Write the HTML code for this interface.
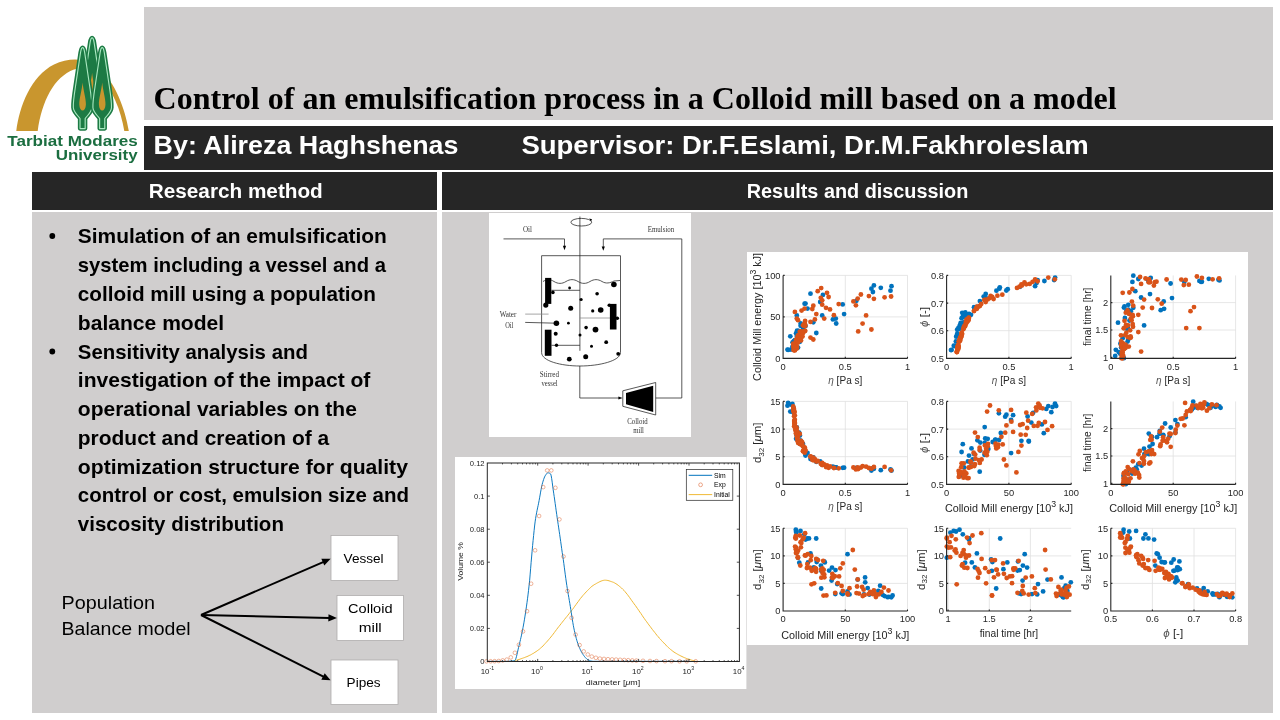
<!DOCTYPE html>
<html lang="en"><head><meta charset="utf-8"><title>Control of an emulsification process in a Colloid mill based on a model</title>
<style>html,body{margin:0;padding:0;background:#fff;width:1280px;height:720px;overflow:hidden}svg{display:block}text{white-space:pre}</style>
</head><body>
<svg width="1280" height="720" viewBox="0 0 1280 720">
<rect width="1280" height="720" fill="#fff"/>
<rect x="144" y="7" width="1129" height="113" fill="#d0cece" />
<rect x="144" y="126" width="1129" height="44" fill="#262626" />
<rect x="32" y="172" width="405" height="38" fill="#262626" />
<rect x="442" y="172" width="831" height="38" fill="#262626" />
<rect x="32" y="212" width="405" height="501" fill="#d0cece" />
<rect x="442" y="212" width="831" height="501" fill="#d0cece" />
<text x="153.6" y="108.9" font-family="'Liberation Serif', serif" font-size="32.5" font-weight="bold" fill="#000" text-anchor="start" textLength="963" lengthAdjust="spacingAndGlyphs" >Control of an emulsification process in a Colloid mill based on a model</text>
<text x="153.6" y="153.8" font-family="'Liberation Sans', sans-serif" font-size="26" font-weight="bold" fill="#fff" text-anchor="start" textLength="304.8" lengthAdjust="spacingAndGlyphs" >By: Alireza Haghshenas</text>
<text x="521.4" y="153.8" font-family="'Liberation Sans', sans-serif" font-size="26" font-weight="bold" fill="#fff" text-anchor="start" textLength="567.4" lengthAdjust="spacingAndGlyphs" >Supervisor: Dr.F.Eslami, Dr.M.Fakhroleslam</text>
<text x="235.8" y="197.5" font-family="'Liberation Sans', sans-serif" font-size="20" font-weight="bold" fill="#fff" text-anchor="middle" textLength="174" lengthAdjust="spacingAndGlyphs" >Research method</text>
<text x="857.5" y="197.5" font-family="'Liberation Sans', sans-serif" font-size="20" font-weight="bold" fill="#fff" text-anchor="middle" textLength="221.5" lengthAdjust="spacingAndGlyphs" >Results and discussion</text>
<text x="77.8" y="243.0" font-family="'Liberation Sans', sans-serif" font-size="20.2" font-weight="bold" fill="#000" text-anchor="start" textLength="309.09999999999997" lengthAdjust="spacingAndGlyphs" >Simulation of an emulsification</text>
<text x="77.8" y="271.8" font-family="'Liberation Sans', sans-serif" font-size="20.2" font-weight="bold" fill="#000" text-anchor="start" textLength="308.09999999999997" lengthAdjust="spacingAndGlyphs" >system including a vessel and a</text>
<text x="77.8" y="300.8" font-family="'Liberation Sans', sans-serif" font-size="20.2" font-weight="bold" fill="#000" text-anchor="start" textLength="298.09999999999997" lengthAdjust="spacingAndGlyphs" >colloid mill using a population</text>
<text x="77.8" y="329.5" font-family="'Liberation Sans', sans-serif" font-size="20.2" font-weight="bold" fill="#000" text-anchor="start" textLength="146.40000000000003" lengthAdjust="spacingAndGlyphs" >balance model</text>
<text x="77.8" y="358.5" font-family="'Liberation Sans', sans-serif" font-size="20.2" font-weight="bold" fill="#000" text-anchor="start" textLength="230.09999999999997" lengthAdjust="spacingAndGlyphs" >Sensitivity analysis and</text>
<text x="77.8" y="386.8" font-family="'Liberation Sans', sans-serif" font-size="20.2" font-weight="bold" fill="#000" text-anchor="start" textLength="292.59999999999997" lengthAdjust="spacingAndGlyphs" >investigation of the impact of</text>
<text x="77.8" y="415.8" font-family="'Liberation Sans', sans-serif" font-size="20.2" font-weight="bold" fill="#000" text-anchor="start" textLength="279.09999999999997" lengthAdjust="spacingAndGlyphs" >operational variables on the</text>
<text x="77.8" y="444.9" font-family="'Liberation Sans', sans-serif" font-size="20.2" font-weight="bold" fill="#000" text-anchor="start" textLength="251.39999999999998" lengthAdjust="spacingAndGlyphs" >product and creation of a</text>
<text x="77.8" y="473.6" font-family="'Liberation Sans', sans-serif" font-size="20.2" font-weight="bold" fill="#000" text-anchor="start" textLength="330.09999999999997" lengthAdjust="spacingAndGlyphs" >optimization structure for quality</text>
<text x="77.8" y="502.4" font-family="'Liberation Sans', sans-serif" font-size="20.2" font-weight="bold" fill="#000" text-anchor="start" textLength="331.09999999999997" lengthAdjust="spacingAndGlyphs" >control or cost, emulsion size and</text>
<text x="77.8" y="530.5" font-family="'Liberation Sans', sans-serif" font-size="20.2" font-weight="bold" fill="#000" text-anchor="start" textLength="206.09999999999997" lengthAdjust="spacingAndGlyphs" >viscosity distribution</text>
<circle cx="52.3" cy="236" r="2.9" fill="#000"/>
<circle cx="52.3" cy="351.5" r="2.9" fill="#000"/>
<text x="61.6" y="609.4" font-family="'Liberation Sans', sans-serif" font-size="18.5" font-weight="normal" fill="#000" text-anchor="start" textLength="93.4" lengthAdjust="spacingAndGlyphs" >Population</text>
<text x="61.6" y="635.0" font-family="'Liberation Sans', sans-serif" font-size="18.5" font-weight="normal" fill="#000" text-anchor="start" textLength="129" lengthAdjust="spacingAndGlyphs" >Balance model</text>
<rect x="331" y="535.5" width="67" height="45.0" fill="#fff" stroke="#aeacac" stroke-width="0.8"/>
<rect x="337" y="595.5" width="66.5" height="45.0" fill="#fff" stroke="#aeacac" stroke-width="0.8"/>
<rect x="331" y="660" width="67" height="44.5" fill="#fff" stroke="#aeacac" stroke-width="0.8"/>
<text x="363.6" y="562.5" font-family="'Liberation Sans', sans-serif" font-size="13.4" font-weight="normal" fill="#000" text-anchor="middle" textLength="40" lengthAdjust="spacingAndGlyphs" >Vessel</text>
<text x="370.3" y="613.4" font-family="'Liberation Sans', sans-serif" font-size="13.4" font-weight="normal" fill="#000" text-anchor="middle" textLength="44.5" lengthAdjust="spacingAndGlyphs" >Colloid</text>
<text x="370.3" y="632.2" font-family="'Liberation Sans', sans-serif" font-size="13.4" font-weight="normal" fill="#000" text-anchor="middle" textLength="23" lengthAdjust="spacingAndGlyphs" >mill</text>
<text x="363.6" y="686.9" font-family="'Liberation Sans', sans-serif" font-size="13.4" font-weight="normal" fill="#000" text-anchor="middle" textLength="34" lengthAdjust="spacingAndGlyphs" >Pipes</text>
<line x1="201.0" y1="615.0" x2="323.7" y2="561.8" stroke="#000" stroke-width="2.0"/>
<polygon points="330.6,558.8 324.3,565.6 321.3,558.8" fill="#000"/>
<line x1="201.0" y1="615.0" x2="329.4" y2="617.9" stroke="#000" stroke-width="2.0"/>
<polygon points="336.9,618.1 328.3,621.6 328.5,614.2" fill="#000"/>
<line x1="201.0" y1="615.0" x2="323.9" y2="676.9" stroke="#000" stroke-width="2.0"/>
<polygon points="330.6,680.3 321.3,679.8 324.7,673.2" fill="#000"/>
<g id="logo"><path d="M16.3,131 C19.5,106 31,76 54,64.5 C70,57 88,58 100,68.5 C115,83 125,108 128.8,131 L124.3,131 C121,110 112,89 100,77 C92,69.5 82,67 74,69.5 C54,77 42,101 37.7,131 Z" fill="#c9962e"/><g transform="translate(92.1,35.3) scale(1.03,1)"><path d="M0,2.6 C-1.2,2.6 -1.6,5 -2,7.5 L-6.7,40 C-8.2,50 -9.3,57 -9.0,62.5 C-8.8,67 -5.5,69.5 -2.5,73.5 L2.5,73.5 C5.5,69.5 8.8,67 9.0,62.5 C9.3,57 8.2,50 6.7,40 L2,7.5 C1.6,5 1.2,2.6 0,2.6 Z" fill="#1c7a44" stroke="#1c7a44" stroke-width="4.2" stroke-linejoin="round"/><path d="M0,2.6 C-1.2,2.6 -1.6,5 -2,7.5 L-6.7,40 C-8.2,50 -9.3,57 -9.0,62.5 C-8.8,67 -5.5,69.5 -2.5,73.5 L2.5,73.5 C5.5,69.5 8.8,67 9.0,62.5 C9.3,57 8.2,50 6.7,40 L2,7.5 C1.6,5 1.2,2.6 0,2.6 Z" fill="none" stroke="#a9e8c0" stroke-width="1.1" stroke-linejoin="round"/><path d="M0,37.5 C-0.6,45 -3.4,54 -3.2,59.5 C-3,63.5 -1.6,65.5 0,65.5 C1.6,65.5 3,63.5 3.2,59.5 C3.4,54 0.6,45 0,37.5 Z" fill="#c9962e"/></g><g transform="translate(82.6,45.0) scale(1.03,1)"><path d="M0,2.6 C-1.2,2.6 -1.6,5 -2,7.5 L-6.7,40 C-8.2,50 -9.3,57 -9.0,62.5 C-8.8,67 -5.5,69.5 -2.5,73.5 L-2.5,83.6 L2.5,83.6 L2.5,73.5 C5.5,69.5 8.8,67 9.0,62.5 C9.3,57 8.2,50 6.7,40 L2,7.5 C1.6,5 1.2,2.6 0,2.6 Z" fill="#1c7a44" stroke="#1c7a44" stroke-width="4.2" stroke-linejoin="round"/><path d="M0,2.6 C-1.2,2.6 -1.6,5 -2,7.5 L-6.7,40 C-8.2,50 -9.3,57 -9.0,62.5 C-8.8,67 -5.5,69.5 -2.5,73.5 L-2.5,83.6 L2.5,83.6 L2.5,73.5 C5.5,69.5 8.8,67 9.0,62.5 C9.3,57 8.2,50 6.7,40 L2,7.5 C1.6,5 1.2,2.6 0,2.6 Z" fill="none" stroke="#a9e8c0" stroke-width="1.1" stroke-linejoin="round"/><path d="M0,37.5 C-0.6,45 -3.4,54 -3.2,59.5 C-3,63.5 -1.6,65.5 0,65.5 C1.6,65.5 3,63.5 3.2,59.5 C3.4,54 0.6,45 0,37.5 Z" fill="#c9962e"/></g><g transform="translate(102.2,45.0) scale(1.03,1)"><path d="M0,2.6 C-1.2,2.6 -1.6,5 -2,7.5 L-6.7,40 C-8.2,50 -9.3,57 -9.0,62.5 C-8.8,67 -5.5,69.5 -2.5,73.5 L-2.5,83.6 L2.5,83.6 L2.5,73.5 C5.5,69.5 8.8,67 9.0,62.5 C9.3,57 8.2,50 6.7,40 L2,7.5 C1.6,5 1.2,2.6 0,2.6 Z" fill="#1c7a44" stroke="#1c7a44" stroke-width="4.2" stroke-linejoin="round"/><path d="M0,2.6 C-1.2,2.6 -1.6,5 -2,7.5 L-6.7,40 C-8.2,50 -9.3,57 -9.0,62.5 C-8.8,67 -5.5,69.5 -2.5,73.5 L-2.5,83.6 L2.5,83.6 L2.5,73.5 C5.5,69.5 8.8,67 9.0,62.5 C9.3,57 8.2,50 6.7,40 L2,7.5 C1.6,5 1.2,2.6 0,2.6 Z" fill="none" stroke="#a9e8c0" stroke-width="1.1" stroke-linejoin="round"/><path d="M0,37.5 C-0.6,45 -3.4,54 -3.2,59.5 C-3,63.5 -1.6,65.5 0,65.5 C1.6,65.5 3,63.5 3.2,59.5 C3.4,54 0.6,45 0,37.5 Z" fill="#c9962e"/></g><text x="137.8" y="146.1" font-family="'Liberation Sans', sans-serif" font-size="15" font-weight="bold" fill="#1b6e40" text-anchor="end" textLength="130.5" lengthAdjust="spacingAndGlyphs">Tarbiat Modares</text><text x="137.6" y="159.6" font-family="'Liberation Sans', sans-serif" font-size="15" font-weight="bold" fill="#1b6e40" text-anchor="end" textLength="81.8" lengthAdjust="spacingAndGlyphs">University</text></g>
<g id="vessel" transform="translate(489,213)"><rect x="0" y="0" width="202" height="224" fill="#fff"/><g fill="none" stroke="#222" stroke-width="0.75"><line x1="90.9" y1="3.5" x2="90.9" y2="137.8"/><ellipse cx="92.3" cy="9.2" rx="10.4" ry="3.8"/><polyline points="14.5,25.9 75.5,25.9 75.5,34.5"/><polyline points="114.3,34.5 114.3,25.9 192.8,25.9 192.8,185 166.7,185"/><path d="M52.6,139.5 L52.6,42.7 L131.5,42.7 L131.5,139.5 C131.5,148 110,153 91,153 C72,153 52.6,148 52.6,139.5 Z"/><path d="M54,68.5 C58,66 61,66 65,68.5 C69,71 73,71 77,68.5 C81,66 85,66 89,68.5 C93,71 97,71 101,68.5 C105,66 109,66 113,68.5 C117,71 121,70 125,68 L131,67.5"/><line x1="62.3" y1="77.3" x2="90.9" y2="77.3"/><line x1="90.9" y1="105" x2="121" y2="105" stroke="#888"/><line x1="62.5" y1="132.3" x2="90.9" y2="132.3"/><line x1="36.2" y1="101.1" x2="59.6" y2="101.1" stroke="#888"/><line x1="36.2" y1="109.4" x2="67" y2="110.2"/><polyline points="90.8,153 90.8,185 131,185"/><polygon points="133.8,177.8 166.7,169.5 166.7,202 133.8,193.3"/></g><g fill="#000"><polygon points="75.5,37.2 73.9,32.8 77.1,32.8"/><polygon points="114.3,37.8 112.7,33.4 115.9,33.4"/><polygon points="133.6,185 129.4,183.4 129.4,186.6"/><polygon points="103,6.3 100.2,5.6 102,8.2"/><rect x="56.1" y="64.9" width="6.2" height="26"/><rect x="120.9" y="90.9" width="6.6" height="25.6"/><rect x="55.8" y="116.7" width="6.7" height="26.1"/><polygon points="137,180 164.2,172.8 164.2,199 137,191.2"/><circle cx="124.9" cy="71.5" r="2.8"/><circle cx="80.6" cy="75" r="1.4"/><circle cx="108.1" cy="80.8" r="1.8"/><circle cx="63.9" cy="79.4" r="1.8"/><circle cx="92.1" cy="86.5" r="1.6"/><circle cx="56.8" cy="92.1" r="2.6"/><circle cx="81.7" cy="95.3" r="2.5"/><circle cx="103.7" cy="97.9" r="1.6"/><circle cx="111.7" cy="97" r="2.8"/><circle cx="120.3" cy="92.3" r="1.8"/><circle cx="128.3" cy="105.3" r="1.8"/><circle cx="67.4" cy="110.2" r="2.8"/><circle cx="79.4" cy="110.2" r="1.4"/><circle cx="97.1" cy="114.6" r="1.8"/><circle cx="106.5" cy="116.6" r="2.9"/><circle cx="66.7" cy="120.8" r="2.0"/><circle cx="91" cy="121.9" r="1.5"/><circle cx="117.2" cy="129.2" r="1.9"/><circle cx="67.5" cy="132.3" r="1.7"/><circle cx="102.5" cy="133.3" r="1.5"/><circle cx="129.2" cy="140.8" r="1.9"/><circle cx="96.7" cy="143.7" r="2.5"/><circle cx="80.3" cy="146.2" r="2.4"/></g><text x="38.4" y="18.6" font-family="'Liberation Serif', serif" font-size="7.2" fill="#333" text-anchor="middle" textLength="9" lengthAdjust="spacingAndGlyphs">Oil</text><text x="172" y="18.8" font-family="'Liberation Serif', serif" font-size="7.2" fill="#333" text-anchor="middle" textLength="26.5" lengthAdjust="spacingAndGlyphs">Emulsion</text><text x="19" y="103.8" font-family="'Liberation Serif', serif" font-size="7.2" fill="#333" text-anchor="middle" textLength="16.7" lengthAdjust="spacingAndGlyphs">Water</text><text x="20.3" y="115.3" font-family="'Liberation Serif', serif" font-size="7.2" fill="#333" text-anchor="middle" textLength="8.2" lengthAdjust="spacingAndGlyphs">Oil</text><text x="60.4" y="163.8" font-family="'Liberation Serif', serif" font-size="7.2" fill="#333" text-anchor="middle" textLength="19.2" lengthAdjust="spacingAndGlyphs">Stirred</text><text x="60.6" y="173.4" font-family="'Liberation Serif', serif" font-size="7.2" fill="#333" text-anchor="middle" textLength="16.2" lengthAdjust="spacingAndGlyphs">vessel</text><text x="148.5" y="210.6" font-family="'Liberation Serif', serif" font-size="7.2" fill="#333" text-anchor="middle" textLength="20.5" lengthAdjust="spacingAndGlyphs">Colloid</text><text x="149.6" y="220.2" font-family="'Liberation Serif', serif" font-size="7.2" fill="#333" text-anchor="middle" textLength="10.8" lengthAdjust="spacingAndGlyphs">mill</text></g>
<g id="dist"><rect x="455" y="457" width="291.3" height="232" fill="#fff"/><rect x="746.3" y="457" width="0.7" height="232" fill="#e4e3e3"/><polyline points="514.4,660.6 515.5,660.4 516.7,660.1 517.8,659.8 519.0,659.5 520.1,659.1 521.2,658.7 522.4,658.3 523.5,657.9 524.7,657.5 525.8,657.0 526.9,656.6 528.1,656.1 529.2,655.5 530.4,655.0 531.5,654.4 532.6,653.7 533.8,653.1 534.9,652.3 536.1,651.6 537.2,650.8 538.3,650.0 539.5,649.1 540.6,648.1 541.8,647.1 542.9,646.0 544.0,644.8 545.2,643.5 546.3,642.3 547.5,641.0 548.6,639.7 549.7,638.4 550.9,637.0 552.0,635.6 553.2,634.1 554.3,632.6 555.4,631.1 556.6,629.5 557.7,628.0 558.9,626.5 560.0,625.1 561.2,623.6 562.3,622.2 563.4,620.8 564.6,619.3 565.7,617.9 566.9,616.5 568.0,615.1 569.1,613.7 570.3,612.2 571.4,610.8 572.6,609.3 573.7,607.8 574.8,606.2 576.0,604.6 577.1,603.0 578.3,601.5 579.4,599.9 580.5,598.4 581.7,597.0 582.8,595.6 584.0,594.3 585.1,593.1 586.2,591.9 587.4,590.7 588.5,589.5 589.7,588.4 590.8,587.3 591.9,586.3 593.1,585.5 594.2,584.7 595.4,584.1 596.5,583.4 597.6,582.8 598.8,582.2 599.9,581.6 601.1,581.1 602.2,580.7 603.3,580.4 604.5,580.2 605.6,580.2 606.8,580.3 607.9,580.5 609.0,580.8 610.2,581.2 611.3,581.6 612.5,582.0 613.6,582.4 614.7,583.0 615.9,583.7 617.0,584.4 618.2,585.3 619.3,586.2 620.4,587.1 621.6,588.1 622.7,589.2 623.9,590.3 625.0,591.6 626.1,593.0 627.3,594.4 628.4,595.9 629.6,597.5 630.7,599.1 631.8,600.7 633.0,602.3 634.1,603.9 635.3,605.4 636.4,607.0 637.5,608.6 638.7,610.3 639.8,612.0 641.0,613.6 642.1,615.3 643.2,617.0 644.4,618.6 645.5,620.3 646.7,621.8 647.8,623.4 648.9,624.9 650.1,626.4 651.2,627.9 652.4,629.5 653.5,630.9 654.7,632.4 655.8,633.8 656.9,635.3 658.1,636.6 659.2,638.0 660.4,639.2 661.5,640.5 662.6,641.7 663.8,642.9 664.9,644.1 666.1,645.2 667.2,646.4 668.3,647.5 669.5,648.5 670.6,649.5 671.8,650.4 672.9,651.3 674.0,652.1 675.2,652.8 676.3,653.5 677.5,654.2 678.6,654.8 679.7,655.4 680.9,656.0 682.0,656.5 683.2,657.1 684.3,657.6 685.4,658.0 686.6,658.5 687.7,658.9 688.9,659.3 690.0,659.6 691.1,660.0 692.3,660.3 693.4,660.7 694.6,660.9 695.7,661.2" fill="none" stroke="#edb120" stroke-width="0.9" stroke-linejoin="round"/><polyline points="487.3,661.3 487.8,661.3 488.3,661.3 488.8,661.3 489.3,661.3 489.8,661.3 490.3,661.3 490.8,661.3 491.3,661.3 491.8,661.3 492.3,661.3 492.8,661.3 493.3,661.3 493.8,661.3 494.3,661.3 494.8,661.3 495.3,661.3 495.9,661.3 496.4,661.3 496.9,661.3 497.4,661.3 497.9,661.3 498.4,661.3 498.9,661.3 499.4,661.3 499.9,661.3 500.4,661.3 500.9,661.3 501.4,661.3 501.9,661.3 502.4,661.3 502.9,661.3 503.4,661.3 503.9,661.3 504.4,661.3 504.9,661.3 505.4,661.3 505.9,661.3 506.4,661.3 506.9,661.3 507.4,661.3 507.9,661.2 508.4,661.2 508.9,661.2 509.4,661.2 509.9,661.1 510.4,661.1 510.9,661.1 511.4,661.0 511.9,661.0 512.5,660.9 513.0,660.8 513.5,660.8 514.0,660.7 514.5,660.6 515.0,660.4 515.5,659.5 516.0,658.2 516.5,656.4 517.0,654.4 517.5,652.2 518.0,649.9 518.5,647.7 519.0,645.6 519.5,643.7 520.0,641.6 520.5,639.5 521.0,637.3 521.5,635.1 522.0,632.7 522.5,630.3 523.0,627.7 523.5,625.0 524.0,622.2 524.5,619.2 525.0,616.1 525.5,612.9 526.0,609.5 526.5,606.1 527.0,602.6 527.5,598.8 528.0,594.9 528.5,590.7 529.0,586.1 529.6,580.8 530.1,574.9 530.6,568.8 531.1,562.7 531.6,557.0 532.1,551.2 532.6,545.7 533.1,540.5 533.6,535.5 534.1,530.6 534.6,526.0 535.1,521.9 535.6,518.5 536.1,515.5 536.6,512.8 537.1,510.3 537.6,507.9 538.1,505.6 538.6,503.2 539.1,500.6 539.6,497.8 540.1,495.0 540.6,492.1 541.1,489.4 541.6,486.9 542.1,484.6 542.6,482.8 543.1,481.1 543.6,479.5 544.1,478.1 544.6,476.9 545.1,475.9 545.6,475.1 546.2,474.3 546.7,473.6 547.2,473.1 547.7,472.8 548.2,472.8 548.7,472.9 549.2,473.0 549.7,473.2 550.2,473.5 550.7,474.0 551.2,475.8 551.7,478.7 552.2,482.2 552.7,486.1 553.2,489.8 553.7,493.2 554.2,496.5 554.7,500.0 555.2,503.6 555.7,507.2 556.2,510.8 556.7,514.3 557.2,517.8 557.7,521.2 558.2,524.5 558.7,527.9 559.2,531.2 559.7,534.6 560.2,538.1 560.7,541.6 561.2,545.1 561.7,548.7 562.2,552.4 562.8,556.0 563.3,559.7 563.8,563.4 564.3,567.2 564.8,571.0 565.3,574.8 565.8,578.5 566.3,582.0 566.8,585.4 567.3,588.5 567.8,591.6 568.3,594.6 568.8,597.5 569.3,600.4 569.8,603.4 570.3,606.4 570.8,609.5 571.3,612.8 571.8,616.1 572.3,619.3 572.8,622.4 573.3,625.3 573.8,627.9 574.3,630.3 574.8,632.5 575.3,634.6 575.8,636.6 576.3,638.5 576.8,640.3 577.3,641.9 577.8,643.5 578.3,644.9 578.8,646.2 579.4,647.5 579.9,648.7 580.4,649.8 580.9,650.8 581.4,651.8 581.9,652.7 582.4,653.6 582.9,654.3 583.4,655.0 583.9,655.7 584.4,656.4 584.9,657.0 585.4,657.6 585.9,658.1 586.4,658.6 586.9,659.1 587.4,659.5 587.9,659.8 588.4,660.1 588.9,660.3 589.4,660.4 589.9,660.6 590.4,660.8 590.9,660.9 591.4,661.0 591.9,661.1 592.4,661.2 592.9,661.3 593.4,661.3 593.9,661.3 594.4,661.3 594.9,661.3 595.4,661.3 595.9,661.3 596.5,661.3 597.0,661.3 597.5,661.3 598.0,661.3 598.5,661.3 599.0,661.3 599.5,661.3 600.0,661.3 600.5,661.3 601.0,661.3 601.5,661.3 602.0,661.3 602.5,661.3 603.0,661.3 603.5,661.3 604.0,661.3 604.5,661.3 605.0,661.3 605.5,661.3 606.0,661.3 606.5,661.3 607.0,661.3 607.5,661.3 608.0,661.3 608.5,661.3 609.0,661.3 609.5,661.3 610.0,661.3 610.5,661.3 611.0,661.3 611.5,661.3 612.0,661.3 612.5,661.3 613.1,661.3 613.6,661.3 614.1,661.3 614.6,661.3 615.1,661.3 615.6,661.3 616.1,661.3 616.6,661.3 617.1,661.3 617.6,661.3 618.1,661.3 618.6,661.3 619.1,661.3 619.6,661.3 620.1,661.3 620.6,661.3 621.1,661.3 621.6,661.3 622.1,661.3 622.6,661.3 623.1,661.3 623.6,661.3 624.1,661.3 624.6,661.3 625.1,661.3 625.6,661.3 626.1,661.3 626.6,661.3 627.1,661.3 627.6,661.3 628.1,661.3 628.6,661.3 629.1,661.3 629.7,661.3 630.2,661.3 630.7,661.3 631.2,661.3 631.7,661.3 632.2,661.3 632.7,661.3 633.2,661.3 633.7,661.3 634.2,661.3 634.7,661.3 635.2,661.3 635.7,661.3 636.2,661.3 636.7,661.3 637.2,661.3 637.7,661.3 638.2,661.3 638.7,661.3 639.2,661.3 639.7,661.3 640.2,661.3 640.7,661.3 641.2,661.3 641.7,661.3 642.2,661.3 642.7,661.3 643.2,661.3 643.7,661.3 644.2,661.3 644.7,661.3 645.2,661.3 645.7,661.3 646.3,661.3 646.8,661.3 647.3,661.3 647.8,661.3 648.3,661.3 648.8,661.3 649.3,661.3 649.8,661.3 650.3,661.3 650.8,661.3 651.3,661.3 651.8,661.3 652.3,661.3 652.8,661.3 653.3,661.3 653.8,661.3 654.3,661.3 654.8,661.3 655.3,661.3 655.8,661.3 656.3,661.3 656.8,661.3 657.3,661.3 657.8,661.3 658.3,661.3 658.8,661.3 659.3,661.3 659.8,661.3 660.3,661.3 660.8,661.3 661.3,661.3 661.8,661.3 662.3,661.3 662.8,661.3 663.4,661.3 663.9,661.3 664.4,661.3 664.9,661.3 665.4,661.3 665.9,661.3 666.4,661.3 666.9,661.3 667.4,661.3 667.9,661.3 668.4,661.3 668.9,661.3 669.4,661.3 669.9,661.3 670.4,661.3 670.9,661.3 671.4,661.3 671.9,661.3 672.4,661.3 672.9,661.3 673.4,661.3 673.9,661.3 674.4,661.3 674.9,661.3 675.4,661.3 675.9,661.3 676.4,661.3 676.9,661.3 677.4,661.3 677.9,661.3 678.4,661.3 678.9,661.3 679.4,661.3 680.0,661.3 680.5,661.3 681.0,661.3 681.5,661.3 682.0,661.3 682.5,661.3 683.0,661.3 683.5,661.3 684.0,661.3 684.5,661.3 685.0,661.3 685.5,661.3 686.0,661.3 686.5,661.3 687.0,661.3 687.5,661.3 688.0,661.3" fill="none" stroke="#0072bd" stroke-width="0.95" stroke-linejoin="round"/><g fill="none" stroke="#d95319" stroke-width="0.5" stroke-opacity="0.85"><circle cx="486.5" cy="661.3" r="1.85"/><circle cx="490.6" cy="661.3" r="1.85"/><circle cx="494.6" cy="661.2" r="1.85"/><circle cx="498.7" cy="661.0" r="1.85"/><circle cx="502.7" cy="660.4" r="1.85"/><circle cx="506.8" cy="659.6" r="1.85"/><circle cx="510.8" cy="657.4" r="1.85"/><circle cx="514.9" cy="652.8" r="1.85"/><circle cx="518.9" cy="644.8" r="1.85"/><circle cx="523.0" cy="631.4" r="1.85"/><circle cx="527.0" cy="611.2" r="1.85"/><circle cx="531.1" cy="583.7" r="1.85"/><circle cx="535.1" cy="550.3" r="1.85"/><circle cx="539.1" cy="516.0" r="1.85"/><circle cx="543.2" cy="487.1" r="1.85"/><circle cx="547.2" cy="470.4" r="1.85"/><circle cx="551.3" cy="470.4" r="1.85"/><circle cx="555.4" cy="487.8" r="1.85"/><circle cx="559.4" cy="519.4" r="1.85"/><circle cx="563.5" cy="556.5" r="1.85"/><circle cx="567.5" cy="591.0" r="1.85"/><circle cx="571.6" cy="617.8" r="1.85"/><circle cx="575.6" cy="634.6" r="1.85"/><circle cx="579.6" cy="645.1" r="1.85"/><circle cx="583.7" cy="651.4" r="1.85"/><circle cx="587.8" cy="654.5" r="1.85"/><circle cx="591.8" cy="656.6" r="1.85"/><circle cx="595.9" cy="657.8" r="1.85"/><circle cx="599.9" cy="658.6" r="1.85"/><circle cx="604.0" cy="658.9" r="1.85"/><circle cx="608.0" cy="659.2" r="1.85"/><circle cx="612.1" cy="659.4" r="1.85"/><circle cx="616.1" cy="659.6" r="1.85"/><circle cx="620.1" cy="659.8" r="1.85"/><circle cx="624.2" cy="660.0" r="1.85"/><circle cx="628.2" cy="660.2" r="1.85"/><circle cx="632.3" cy="660.4" r="1.85"/><circle cx="636.4" cy="660.6" r="1.85"/><circle cx="643.0" cy="660.8" r="1.85"/><circle cx="650.0" cy="661.0" r="1.85"/><circle cx="656.5" cy="661.1" r="1.85"/><circle cx="665.0" cy="661.2" r="1.85"/><circle cx="671.5" cy="661.2" r="1.85"/><circle cx="679.5" cy="661.3" r="1.85"/><circle cx="686.7" cy="661.3" r="1.85"/><circle cx="695.7" cy="661.3" r="1.85"/></g><g fill="none" stroke="#262626" stroke-width="1"><rect x="487.3" y="463.0" width="252.1" height="198.5"/><path d="M502.5,661.5v-1.4M502.5,463.0v1.4M511.4,661.5v-1.4M511.4,463.0v1.4M517.7,661.5v-1.4M517.7,463.0v1.4M522.5,661.5v-1.4M522.5,463.0v1.4M526.5,661.5v-1.4M526.5,463.0v1.4M529.9,661.5v-1.4M529.9,463.0v1.4M532.8,661.5v-1.4M532.8,463.0v1.4M535.4,661.5v-1.4M535.4,463.0v1.4M537.7,661.5v-2.6M537.7,463.0v2.6M552.9,661.5v-1.4M552.9,463.0v1.4M561.8,661.5v-1.4M561.8,463.0v1.4M568.1,661.5v-1.4M568.1,463.0v1.4M573.0,661.5v-1.4M573.0,463.0v1.4M577.0,661.5v-1.4M577.0,463.0v1.4M580.3,661.5v-1.4M580.3,463.0v1.4M583.3,661.5v-1.4M583.3,463.0v1.4M585.8,661.5v-1.4M585.8,463.0v1.4M588.1,661.5v-2.6M588.1,463.0v2.6M603.3,661.5v-1.4M603.3,463.0v1.4M612.2,661.5v-1.4M612.2,463.0v1.4M618.5,661.5v-1.4M618.5,463.0v1.4M623.4,661.5v-1.4M623.4,463.0v1.4M627.4,661.5v-1.4M627.4,463.0v1.4M630.7,661.5v-1.4M630.7,463.0v1.4M633.7,661.5v-1.4M633.7,463.0v1.4M636.3,661.5v-1.4M636.3,463.0v1.4M638.6,661.5v-2.6M638.6,463.0v2.6M653.7,661.5v-1.4M653.7,463.0v1.4M662.6,661.5v-1.4M662.6,463.0v1.4M668.9,661.5v-1.4M668.9,463.0v1.4M673.8,661.5v-1.4M673.8,463.0v1.4M677.8,661.5v-1.4M677.8,463.0v1.4M681.2,661.5v-1.4M681.2,463.0v1.4M684.1,661.5v-1.4M684.1,463.0v1.4M686.7,661.5v-1.4M686.7,463.0v1.4M689.0,661.5v-2.6M689.0,463.0v2.6M704.2,661.5v-1.4M704.2,463.0v1.4M713.0,661.5v-1.4M713.0,463.0v1.4M719.3,661.5v-1.4M719.3,463.0v1.4M724.2,661.5v-1.4M724.2,463.0v1.4M728.2,661.5v-1.4M728.2,463.0v1.4M731.6,661.5v-1.4M731.6,463.0v1.4M734.5,661.5v-1.4M734.5,463.0v1.4M737.1,661.5v-1.4M737.1,463.0v1.4M487.3,628.4h2.6M739.4,628.4h-2.6M487.3,595.3h2.6M739.4,595.3h-2.6M487.3,562.2h2.6M739.4,562.2h-2.6M487.3,529.2h2.6M739.4,529.2h-2.6M487.3,496.1h2.6M739.4,496.1h-2.6" stroke-width="0.8"/></g><g font-family="'Liberation Sans', sans-serif" font-size="7.6" fill="#1a1a1a"><text x="484.6" y="664.0" text-anchor="end">0</text><text x="484.6" y="630.9" text-anchor="end">0.02</text><text x="484.6" y="597.8" text-anchor="end">0.04</text><text x="484.6" y="564.8" text-anchor="end">0.06</text><text x="484.6" y="531.7" text-anchor="end">0.08</text><text x="484.6" y="498.6" text-anchor="end">0.1</text><text x="484.6" y="465.5" text-anchor="end">0.12</text><text x="480.7" y="674" font-size="7.9">10<tspan font-size="5.2" dy="-3.6">-1</tspan></text><text x="531.1" y="674" font-size="7.9">10<tspan font-size="5.2" dy="-3.6">0</tspan></text><text x="581.5" y="674" font-size="7.9">10<tspan font-size="5.2" dy="-3.6">1</tspan></text><text x="632.0" y="674" font-size="7.9">10<tspan font-size="5.2" dy="-3.6">2</tspan></text><text x="682.4" y="674" font-size="7.9">10<tspan font-size="5.2" dy="-3.6">3</tspan></text><text x="732.8" y="674" font-size="7.9">10<tspan font-size="5.2" dy="-3.6">4</tspan></text><text x="613" y="685.3" text-anchor="middle" font-size="8" textLength="54.4" lengthAdjust="spacingAndGlyphs">diameter [<tspan font-style="italic">μ</tspan>m]</text><text transform="translate(462.6,561.5) rotate(-90)" text-anchor="middle" font-size="8" textLength="38.5" lengthAdjust="spacingAndGlyphs">Volume %</text></g><rect x="686.3" y="469.4" width="46.5" height="30.9" fill="#fff" stroke="#262626" stroke-width="0.7"/><line x1="688.7" y1="475.3" x2="712.2" y2="475.3" stroke="#0072bd" stroke-width="1"/><circle cx="700.6" cy="484.8" r="1.9" fill="none" stroke="#d95319" stroke-width="0.5"/><line x1="688.7" y1="494.6" x2="712.2" y2="494.6" stroke="#edb120" stroke-width="0.9"/><g font-family="'Liberation Sans', sans-serif" font-size="6.8" fill="#000"><text x="714" y="477.6">Sim</text><text x="714" y="487">Exp</text><text x="714" y="496.8">Initial</text></g></g>
<g id="scatter"><rect x="747" y="252" width="501" height="393" fill="#fff"/><path d="M845.3,275.4V358.4M907.5,275.4V358.4M783.1,316.9H907.5M783.1,275.4H907.5" stroke="#dfdfdf" stroke-width="0.8" fill="none"/><g fill="#0072bd"><circle cx="787.5" cy="349.6" r="2.4"/><circle cx="788.1" cy="349.9" r="2.4"/><circle cx="790.3" cy="336.3" r="2.4"/><circle cx="796.8" cy="315.4" r="2.4"/><circle cx="804.6" cy="303.7" r="2.4"/><circle cx="807.5" cy="308.6" r="2.4"/><circle cx="810.5" cy="293.7" r="2.4"/><circle cx="813.3" cy="322.3" r="2.4"/><circle cx="816.3" cy="333.0" r="2.4"/><circle cx="820.2" cy="302.0" r="2.4"/><circle cx="822.2" cy="315.4" r="2.4"/><circle cx="822.9" cy="294.9" r="2.4"/><circle cx="832.9" cy="319.4" r="2.4"/><circle cx="835.8" cy="318.6" r="2.4"/><circle cx="836.2" cy="323.5" r="2.4"/><circle cx="842.7" cy="304.4" r="2.4"/><circle cx="844.1" cy="314.1" r="2.4"/><circle cx="856.4" cy="300.8" r="2.4"/><circle cx="871.4" cy="288.7" r="2.4"/><circle cx="872.9" cy="292.0" r="2.4"/><circle cx="873.9" cy="285.4" r="2.4"/><circle cx="880.8" cy="287.8" r="2.4"/><circle cx="890.5" cy="290.7" r="2.4"/><circle cx="891.5" cy="286.2" r="2.4"/><circle cx="798.0" cy="347.6" r="2.4"/><circle cx="800.5" cy="337.9" r="2.4"/><circle cx="805.5" cy="326.0" r="2.4"/><circle cx="792.4" cy="346.8" r="2.4"/><circle cx="793.7" cy="343.5" r="2.4"/><circle cx="794.9" cy="340.1" r="2.4"/><circle cx="796.2" cy="348.4" r="2.4"/><circle cx="796.8" cy="336.0" r="2.4"/><circle cx="798.6" cy="331.0" r="2.4"/><circle cx="799.9" cy="341.8" r="2.4"/><circle cx="801.8" cy="332.7" r="2.4"/><circle cx="803.0" cy="327.7" r="2.4"/><circle cx="797.1" cy="330.6" r="2.4"/><circle cx="799.2" cy="335.9" r="2.4"/><circle cx="792.6" cy="342.3" r="2.4"/><circle cx="800.3" cy="333.0" r="2.4"/><circle cx="800.7" cy="323.5" r="2.4"/><circle cx="800.6" cy="325.8" r="2.4"/><circle cx="793.4" cy="344.2" r="2.4"/><circle cx="790.9" cy="349.6" r="2.4"/><circle cx="793.8" cy="341.1" r="2.4"/><circle cx="796.1" cy="333.2" r="2.4"/><circle cx="805.5" cy="303.6" r="2.4"/></g><g fill="#d95319"><circle cx="794.9" cy="311.9" r="2.4"/><circle cx="796.8" cy="318.6" r="2.4"/><circle cx="798.0" cy="320.2" r="2.4"/><circle cx="801.6" cy="310.6" r="2.4"/><circle cx="804.6" cy="308.6" r="2.4"/><circle cx="805.1" cy="321.0" r="2.4"/><circle cx="810.5" cy="321.9" r="2.4"/><circle cx="812.3" cy="309.0" r="2.4"/><circle cx="813.3" cy="305.7" r="2.4"/><circle cx="814.9" cy="319.4" r="2.4"/><circle cx="816.3" cy="314.1" r="2.4"/><circle cx="817.7" cy="291.2" r="2.4"/><circle cx="821.2" cy="288.1" r="2.4"/><circle cx="820.8" cy="297.8" r="2.4"/><circle cx="822.2" cy="300.3" r="2.4"/><circle cx="827.0" cy="292.8" r="2.4"/><circle cx="828.6" cy="297.0" r="2.4"/><circle cx="822.2" cy="304.7" r="2.4"/><circle cx="826.0" cy="307.8" r="2.4"/><circle cx="830.0" cy="309.4" r="2.4"/><circle cx="824.2" cy="318.6" r="2.4"/><circle cx="833.9" cy="315.2" r="2.4"/><circle cx="838.7" cy="304.1" r="2.4"/><circle cx="853.4" cy="301.4" r="2.4"/><circle cx="855.9" cy="305.3" r="2.4"/><circle cx="860.9" cy="294.5" r="2.4"/><circle cx="866.1" cy="315.4" r="2.4"/><circle cx="862.6" cy="323.6" r="2.4"/><circle cx="858.2" cy="331.4" r="2.4"/><circle cx="871.4" cy="329.5" r="2.4"/><circle cx="873.9" cy="298.8" r="2.4"/><circle cx="884.6" cy="297.3" r="2.4"/><circle cx="891.1" cy="296.5" r="2.4"/><circle cx="810.5" cy="337.6" r="2.4"/><circle cx="813.3" cy="339.5" r="2.4"/><circle cx="868.9" cy="296.1" r="2.4"/><circle cx="857.7" cy="298.6" r="2.4"/><circle cx="794.4" cy="349.6" r="2.4"/><circle cx="794.2" cy="349.8" r="2.4"/><circle cx="794.1" cy="345.3" r="2.4"/><circle cx="794.8" cy="346.7" r="2.4"/><circle cx="794.7" cy="348.4" r="2.4"/><circle cx="794.6" cy="349.0" r="2.4"/><circle cx="794.2" cy="349.7" r="2.4"/><circle cx="795.2" cy="343.3" r="2.4"/><circle cx="796.5" cy="342.0" r="2.4"/><circle cx="796.4" cy="339.6" r="2.4"/><circle cx="795.7" cy="343.8" r="2.4"/><circle cx="803.8" cy="325.6" r="2.4"/><circle cx="805.2" cy="330.8" r="2.4"/><circle cx="802.2" cy="336.4" r="2.4"/><circle cx="793.4" cy="347.2" r="2.4"/><circle cx="799.8" cy="331.6" r="2.4"/><circle cx="801.4" cy="332.2" r="2.4"/><circle cx="798.3" cy="335.1" r="2.4"/><circle cx="798.5" cy="337.0" r="2.4"/><circle cx="801.5" cy="331.3" r="2.4"/><circle cx="803.1" cy="332.9" r="2.4"/><circle cx="801.0" cy="340.4" r="2.4"/><circle cx="794.8" cy="350.4" r="2.4"/><circle cx="802.4" cy="336.4" r="2.4"/><circle cx="797.5" cy="336.3" r="2.4"/><circle cx="798.2" cy="339.1" r="2.4"/><circle cx="803.0" cy="325.3" r="2.4"/><circle cx="797.8" cy="342.5" r="2.4"/><circle cx="804.9" cy="331.0" r="2.4"/><circle cx="795.5" cy="348.7" r="2.4"/><circle cx="800.0" cy="339.3" r="2.4"/><circle cx="797.8" cy="342.3" r="2.4"/><circle cx="804.9" cy="324.0" r="2.4"/><circle cx="800.4" cy="333.1" r="2.4"/><circle cx="804.1" cy="324.2" r="2.4"/><circle cx="802.8" cy="332.1" r="2.4"/><circle cx="794.1" cy="346.3" r="2.4"/><circle cx="793.7" cy="350.2" r="2.4"/><circle cx="796.8" cy="348.4" r="2.4"/><circle cx="794.6" cy="349.9" r="2.4"/><circle cx="793.3" cy="344.7" r="2.4"/><circle cx="794.6" cy="349.9" r="2.4"/><circle cx="797.1" cy="346.9" r="2.4"/><circle cx="805.4" cy="325.8" r="2.4"/><circle cx="793.9" cy="349.9" r="2.4"/><circle cx="795.9" cy="340.0" r="2.4"/><circle cx="793.2" cy="343.7" r="2.4"/><circle cx="794.6" cy="346.5" r="2.4"/></g><path d="M783.1,275.4V358.4H907.5M783.1,358.4v-1.6M845.3,358.4v-1.6M907.5,358.4v-1.6M783.1,358.4h1.6M783.1,316.9h1.6M783.1,275.4h1.6" stroke="#262626" stroke-width="1.1" fill="none"/><g font-family="'Liberation Sans', sans-serif" font-size="9.3" fill="#262626"><text x="783.1" y="369.7" text-anchor="middle">0</text><text x="845.3" y="369.7" text-anchor="middle">0.5</text><text x="907.5" y="369.7" text-anchor="middle">1</text><text x="780.5" y="361.8" text-anchor="end">0</text><text x="780.5" y="320.3" text-anchor="end">50</text><text x="780.5" y="278.8" text-anchor="end">100</text><text x="828.2" y="384.0" font-size="10.6" textLength="34.2" lengthAdjust="spacingAndGlyphs"><tspan font-style="italic" fill="#555">η</tspan> [Pa s]</text><text transform="translate(760.6,380.9) rotate(-90)" font-size="10.6" textLength="128" lengthAdjust="spacingAndGlyphs">Colloid Mill energy [10<tspan font-size="8.6" dy="-4.6">3</tspan><tspan dy="4.6"> kJ]</tspan></text></g><path d="M1008.9,275.4V358.4M1071.2,275.4V358.4M946.6,330.7H1071.2M946.6,303.1H1071.2M946.6,275.4H1071.2" stroke="#dfdfdf" stroke-width="0.8" fill="none"/><g fill="#0072bd"><circle cx="951.0" cy="350.1" r="2.4"/><circle cx="951.6" cy="349.9" r="2.4"/><circle cx="953.8" cy="345.7" r="2.4"/><circle cx="960.3" cy="327.1" r="2.4"/><circle cx="968.2" cy="314.8" r="2.4"/><circle cx="971.0" cy="314.8" r="2.4"/><circle cx="974.0" cy="307.2" r="2.4"/><circle cx="976.9" cy="307.0" r="2.4"/><circle cx="979.9" cy="301.1" r="2.4"/><circle cx="983.7" cy="296.6" r="2.4"/><circle cx="985.7" cy="294.0" r="2.4"/><circle cx="986.5" cy="298.4" r="2.4"/><circle cx="996.4" cy="290.7" r="2.4"/><circle cx="999.4" cy="288.7" r="2.4"/><circle cx="999.8" cy="287.3" r="2.4"/><circle cx="1006.3" cy="290.5" r="2.4"/><circle cx="1007.7" cy="289.2" r="2.4"/><circle cx="1020.0" cy="286.8" r="2.4"/><circle cx="1035.1" cy="286.2" r="2.4"/><circle cx="1036.6" cy="282.9" r="2.4"/><circle cx="1037.6" cy="280.1" r="2.4"/><circle cx="1044.4" cy="281.0" r="2.4"/><circle cx="1054.1" cy="280.1" r="2.4"/><circle cx="1055.1" cy="277.6" r="2.4"/><circle cx="961.6" cy="318.2" r="2.4"/><circle cx="964.0" cy="314.3" r="2.4"/><circle cx="969.0" cy="313.9" r="2.4"/><circle cx="955.9" cy="341.5" r="2.4"/><circle cx="957.2" cy="329.6" r="2.4"/><circle cx="958.4" cy="327.9" r="2.4"/><circle cx="959.7" cy="326.0" r="2.4"/><circle cx="960.3" cy="324.6" r="2.4"/><circle cx="962.2" cy="312.8" r="2.4"/><circle cx="963.4" cy="322.4" r="2.4"/><circle cx="965.3" cy="312.5" r="2.4"/><circle cx="966.5" cy="316.0" r="2.4"/><circle cx="960.7" cy="322.9" r="2.4"/><circle cx="962.8" cy="316.6" r="2.4"/><circle cx="956.2" cy="336.7" r="2.4"/><circle cx="963.8" cy="316.8" r="2.4"/><circle cx="964.2" cy="313.9" r="2.4"/><circle cx="964.1" cy="313.6" r="2.4"/><circle cx="956.9" cy="335.4" r="2.4"/><circle cx="954.4" cy="346.2" r="2.4"/><circle cx="957.3" cy="333.4" r="2.4"/><circle cx="959.6" cy="328.8" r="2.4"/><circle cx="969.0" cy="315.5" r="2.4"/></g><g fill="#d95319"><circle cx="958.4" cy="346.4" r="2.4"/><circle cx="960.3" cy="339.4" r="2.4"/><circle cx="961.6" cy="333.5" r="2.4"/><circle cx="965.2" cy="325.9" r="2.4"/><circle cx="968.2" cy="319.6" r="2.4"/><circle cx="968.7" cy="318.4" r="2.4"/><circle cx="974.0" cy="310.8" r="2.4"/><circle cx="975.9" cy="308.7" r="2.4"/><circle cx="976.9" cy="308.8" r="2.4"/><circle cx="978.5" cy="306.7" r="2.4"/><circle cx="979.9" cy="305.9" r="2.4"/><circle cx="981.2" cy="303.9" r="2.4"/><circle cx="984.7" cy="300.2" r="2.4"/><circle cx="984.4" cy="299.8" r="2.4"/><circle cx="985.7" cy="299.9" r="2.4"/><circle cx="990.6" cy="296.0" r="2.4"/><circle cx="992.2" cy="297.0" r="2.4"/><circle cx="985.7" cy="302.0" r="2.4"/><circle cx="989.6" cy="298.2" r="2.4"/><circle cx="993.6" cy="299.0" r="2.4"/><circle cx="987.7" cy="299.4" r="2.4"/><circle cx="997.4" cy="295.7" r="2.4"/><circle cx="1002.3" cy="294.7" r="2.4"/><circle cx="1017.0" cy="287.9" r="2.4"/><circle cx="1019.5" cy="286.7" r="2.4"/><circle cx="1024.5" cy="282.3" r="2.4"/><circle cx="1029.7" cy="283.9" r="2.4"/><circle cx="1026.2" cy="284.3" r="2.4"/><circle cx="1021.9" cy="285.6" r="2.4"/><circle cx="1035.1" cy="279.5" r="2.4"/><circle cx="1037.6" cy="281.3" r="2.4"/><circle cx="1048.3" cy="277.6" r="2.4"/><circle cx="1054.8" cy="279.3" r="2.4"/><circle cx="974.0" cy="311.1" r="2.4"/><circle cx="976.9" cy="306.6" r="2.4"/><circle cx="1032.6" cy="281.8" r="2.4"/><circle cx="1021.4" cy="284.4" r="2.4"/><circle cx="957.9" cy="347.0" r="2.4"/><circle cx="957.7" cy="348.6" r="2.4"/><circle cx="957.6" cy="347.5" r="2.4"/><circle cx="958.4" cy="348.7" r="2.4"/><circle cx="958.2" cy="346.7" r="2.4"/><circle cx="958.2" cy="346.0" r="2.4"/><circle cx="957.8" cy="348.7" r="2.4"/><circle cx="958.8" cy="341.5" r="2.4"/><circle cx="960.1" cy="340.8" r="2.4"/><circle cx="959.9" cy="338.2" r="2.4"/><circle cx="959.2" cy="341.6" r="2.4"/><circle cx="967.3" cy="320.1" r="2.4"/><circle cx="968.8" cy="317.8" r="2.4"/><circle cx="965.7" cy="324.1" r="2.4"/><circle cx="956.9" cy="351.7" r="2.4"/><circle cx="963.3" cy="329.2" r="2.4"/><circle cx="964.9" cy="325.7" r="2.4"/><circle cx="961.8" cy="333.5" r="2.4"/><circle cx="962.1" cy="334.1" r="2.4"/><circle cx="965.0" cy="325.7" r="2.4"/><circle cx="966.6" cy="319.4" r="2.4"/><circle cx="964.6" cy="326.7" r="2.4"/><circle cx="958.3" cy="345.0" r="2.4"/><circle cx="965.9" cy="321.7" r="2.4"/><circle cx="961.0" cy="336.9" r="2.4"/><circle cx="961.7" cy="332.7" r="2.4"/><circle cx="966.6" cy="322.4" r="2.4"/><circle cx="961.3" cy="335.4" r="2.4"/><circle cx="968.4" cy="320.3" r="2.4"/><circle cx="959.1" cy="341.2" r="2.4"/><circle cx="963.5" cy="328.6" r="2.4"/><circle cx="961.4" cy="336.4" r="2.4"/><circle cx="968.4" cy="318.7" r="2.4"/><circle cx="963.9" cy="326.7" r="2.4"/><circle cx="967.7" cy="321.3" r="2.4"/><circle cx="966.3" cy="322.8" r="2.4"/><circle cx="957.6" cy="349.1" r="2.4"/><circle cx="957.2" cy="350.9" r="2.4"/><circle cx="960.4" cy="337.3" r="2.4"/><circle cx="958.1" cy="347.4" r="2.4"/><circle cx="956.8" cy="352.1" r="2.4"/><circle cx="958.1" cy="347.5" r="2.4"/><circle cx="960.7" cy="337.3" r="2.4"/><circle cx="968.9" cy="317.7" r="2.4"/><circle cx="957.4" cy="347.1" r="2.4"/><circle cx="959.5" cy="340.0" r="2.4"/><circle cx="956.8" cy="352.1" r="2.4"/><circle cx="958.1" cy="345.3" r="2.4"/></g><path d="M946.6,275.4V358.4H1071.2M946.6,358.4v-1.6M1008.9,358.4v-1.6M1071.2,358.4v-1.6M946.6,358.4h1.6M946.6,330.7h1.6M946.6,303.1h1.6M946.6,275.4h1.6" stroke="#262626" stroke-width="1.1" fill="none"/><g font-family="'Liberation Sans', sans-serif" font-size="9.3" fill="#262626"><text x="946.6" y="369.7" text-anchor="middle">0</text><text x="1008.9" y="369.7" text-anchor="middle">0.5</text><text x="1071.2" y="369.7" text-anchor="middle">1</text><text x="944.0" y="361.8" text-anchor="end">0.5</text><text x="944.0" y="334.1" text-anchor="end">0.6</text><text x="944.0" y="306.5" text-anchor="end">0.7</text><text x="944.0" y="278.8" text-anchor="end">0.8</text><text x="991.8" y="384.0" font-size="10.6" textLength="34.2" lengthAdjust="spacingAndGlyphs"><tspan font-style="italic" fill="#555">η</tspan> [Pa s]</text><text transform="translate(928.1,326.9) rotate(-90)" font-size="10.6" textLength="20" lengthAdjust="spacingAndGlyphs"><tspan font-style="italic" fill="#555">ϕ</tspan> [-]</text></g><path d="M1173.2,275.4V358.4M1235.6,275.4V358.4M1110.8,330.0H1235.6M1110.8,302.6H1235.6" stroke="#dfdfdf" stroke-width="0.8" fill="none"/><g fill="#0072bd"><circle cx="1115.2" cy="355.9" r="2.4"/><circle cx="1115.8" cy="349.8" r="2.4"/><circle cx="1118.0" cy="322.7" r="2.4"/><circle cx="1124.5" cy="306.4" r="2.4"/><circle cx="1132.4" cy="281.9" r="2.4"/><circle cx="1135.3" cy="291.2" r="2.4"/><circle cx="1138.3" cy="279.0" r="2.4"/><circle cx="1141.1" cy="297.5" r="2.4"/><circle cx="1144.1" cy="325.4" r="2.4"/><circle cx="1148.0" cy="280.0" r="2.4"/><circle cx="1150.0" cy="294.1" r="2.4"/><circle cx="1150.7" cy="277.9" r="2.4"/><circle cx="1160.7" cy="310.2" r="2.4"/><circle cx="1163.7" cy="301.5" r="2.4"/><circle cx="1164.1" cy="308.8" r="2.4"/><circle cx="1170.6" cy="283.5" r="2.4"/><circle cx="1172.0" cy="298.1" r="2.4"/><circle cx="1184.3" cy="281.9" r="2.4"/><circle cx="1199.4" cy="280.9" r="2.4"/><circle cx="1200.9" cy="281.8" r="2.4"/><circle cx="1201.9" cy="281.8" r="2.4"/><circle cx="1208.8" cy="278.8" r="2.4"/><circle cx="1218.5" cy="279.7" r="2.4"/><circle cx="1219.5" cy="280.4" r="2.4"/><circle cx="1125.8" cy="346.1" r="2.4"/><circle cx="1128.3" cy="339.6" r="2.4"/><circle cx="1133.3" cy="307.8" r="2.4"/><circle cx="1120.2" cy="353.7" r="2.4"/><circle cx="1121.4" cy="343.6" r="2.4"/><circle cx="1122.7" cy="338.2" r="2.4"/><circle cx="1123.9" cy="358.2" r="2.4"/><circle cx="1124.5" cy="327.9" r="2.4"/><circle cx="1126.4" cy="310.8" r="2.4"/><circle cx="1127.6" cy="341.6" r="2.4"/><circle cx="1129.5" cy="320.6" r="2.4"/><circle cx="1130.8" cy="311.2" r="2.4"/><circle cx="1124.9" cy="318.0" r="2.4"/><circle cx="1127.0" cy="328.8" r="2.4"/><circle cx="1120.4" cy="343.6" r="2.4"/><circle cx="1128.0" cy="328.2" r="2.4"/><circle cx="1128.4" cy="309.6" r="2.4"/><circle cx="1128.3" cy="304.8" r="2.4"/><circle cx="1121.1" cy="347.6" r="2.4"/><circle cx="1118.6" cy="352.1" r="2.4"/><circle cx="1121.5" cy="343.6" r="2.4"/><circle cx="1123.9" cy="307.6" r="2.4"/><circle cx="1133.3" cy="275.7" r="2.4"/></g><g fill="#d95319"><circle cx="1122.7" cy="292.8" r="2.4"/><circle cx="1124.5" cy="320.8" r="2.4"/><circle cx="1125.8" cy="312.7" r="2.4"/><circle cx="1129.4" cy="292.5" r="2.4"/><circle cx="1132.4" cy="289.0" r="2.4"/><circle cx="1132.9" cy="316.3" r="2.4"/><circle cx="1138.3" cy="314.8" r="2.4"/><circle cx="1140.1" cy="276.9" r="2.4"/><circle cx="1141.1" cy="283.9" r="2.4"/><circle cx="1142.7" cy="307.6" r="2.4"/><circle cx="1144.1" cy="299.6" r="2.4"/><circle cx="1145.5" cy="278.5" r="2.4"/><circle cx="1149.0" cy="279.2" r="2.4"/><circle cx="1148.6" cy="282.3" r="2.4"/><circle cx="1150.0" cy="282.1" r="2.4"/><circle cx="1154.9" cy="282.2" r="2.4"/><circle cx="1156.5" cy="281.7" r="2.4"/><circle cx="1150.0" cy="282.1" r="2.4"/><circle cx="1153.9" cy="285.5" r="2.4"/><circle cx="1157.8" cy="299.3" r="2.4"/><circle cx="1152.0" cy="308.0" r="2.4"/><circle cx="1161.7" cy="303.7" r="2.4"/><circle cx="1166.6" cy="279.5" r="2.4"/><circle cx="1181.3" cy="279.6" r="2.4"/><circle cx="1183.8" cy="285.1" r="2.4"/><circle cx="1188.8" cy="284.7" r="2.4"/><circle cx="1194.0" cy="307.1" r="2.4"/><circle cx="1190.5" cy="311.2" r="2.4"/><circle cx="1186.2" cy="328.1" r="2.4"/><circle cx="1199.4" cy="328.1" r="2.4"/><circle cx="1201.9" cy="277.9" r="2.4"/><circle cx="1212.6" cy="279.3" r="2.4"/><circle cx="1219.1" cy="278.3" r="2.4"/><circle cx="1138.3" cy="332.1" r="2.4"/><circle cx="1141.1" cy="351.6" r="2.4"/><circle cx="1196.9" cy="276.5" r="2.4"/><circle cx="1185.7" cy="279.9" r="2.4"/><circle cx="1122.1" cy="347.0" r="2.4"/><circle cx="1121.9" cy="347.8" r="2.4"/><circle cx="1121.8" cy="352.3" r="2.4"/><circle cx="1122.6" cy="356.4" r="2.4"/><circle cx="1122.4" cy="353.0" r="2.4"/><circle cx="1122.4" cy="351.9" r="2.4"/><circle cx="1122.0" cy="357.1" r="2.4"/><circle cx="1123.0" cy="343.5" r="2.4"/><circle cx="1124.3" cy="346.8" r="2.4"/><circle cx="1124.1" cy="349.1" r="2.4"/><circle cx="1123.4" cy="345.6" r="2.4"/><circle cx="1131.6" cy="320.2" r="2.4"/><circle cx="1133.0" cy="326.8" r="2.4"/><circle cx="1130.0" cy="337.8" r="2.4"/><circle cx="1121.1" cy="341.1" r="2.4"/><circle cx="1127.5" cy="310.4" r="2.4"/><circle cx="1129.2" cy="313.9" r="2.4"/><circle cx="1126.0" cy="326.2" r="2.4"/><circle cx="1126.3" cy="332.7" r="2.4"/><circle cx="1129.2" cy="313.7" r="2.4"/><circle cx="1130.8" cy="337.5" r="2.4"/><circle cx="1128.8" cy="346.6" r="2.4"/><circle cx="1122.5" cy="358.2" r="2.4"/><circle cx="1130.1" cy="330.3" r="2.4"/><circle cx="1125.2" cy="335.1" r="2.4"/><circle cx="1126.0" cy="325.0" r="2.4"/><circle cx="1130.8" cy="318.4" r="2.4"/><circle cx="1125.5" cy="344.6" r="2.4"/><circle cx="1132.7" cy="324.1" r="2.4"/><circle cx="1123.3" cy="356.0" r="2.4"/><circle cx="1127.8" cy="337.1" r="2.4"/><circle cx="1125.6" cy="347.7" r="2.4"/><circle cx="1132.6" cy="314.8" r="2.4"/><circle cx="1128.1" cy="325.3" r="2.4"/><circle cx="1131.9" cy="301.6" r="2.4"/><circle cx="1130.5" cy="336.5" r="2.4"/><circle cx="1121.8" cy="343.1" r="2.4"/><circle cx="1121.4" cy="358.2" r="2.4"/><circle cx="1124.6" cy="345.4" r="2.4"/><circle cx="1122.3" cy="352.5" r="2.4"/><circle cx="1121.0" cy="344.8" r="2.4"/><circle cx="1122.3" cy="358.2" r="2.4"/><circle cx="1124.9" cy="348.2" r="2.4"/><circle cx="1133.2" cy="305.7" r="2.4"/><circle cx="1121.6" cy="355.1" r="2.4"/><circle cx="1123.7" cy="328.3" r="2.4"/><circle cx="1121.0" cy="335.3" r="2.4"/><circle cx="1122.3" cy="355.4" r="2.4"/></g><path d="M1110.8,275.4V358.4H1235.6M1110.8,358.4v-1.6M1173.2,358.4v-1.6M1235.6,358.4v-1.6M1110.8,357.4h1.6M1110.8,330.0h1.6M1110.8,302.6h1.6" stroke="#262626" stroke-width="1.1" fill="none"/><g font-family="'Liberation Sans', sans-serif" font-size="9.3" fill="#262626"><text x="1110.8" y="369.7" text-anchor="middle">0</text><text x="1173.2" y="369.7" text-anchor="middle">0.5</text><text x="1235.6" y="369.7" text-anchor="middle">1</text><text x="1108.2" y="360.8" text-anchor="end">1</text><text x="1108.2" y="333.4" text-anchor="end">1.5</text><text x="1108.2" y="306.0" text-anchor="end">2</text><text x="1156.1" y="384.0" font-size="10.6" textLength="34.2" lengthAdjust="spacingAndGlyphs"><tspan font-style="italic" fill="#555">η</tspan> [Pa s]</text><text transform="translate(1091.0,346.1) rotate(-90)" font-size="10.6" textLength="58.5" lengthAdjust="spacingAndGlyphs">final time [hr]</text></g><path d="M845.3,401.4V484.4M907.5,401.4V484.4M783.1,456.7H907.5M783.1,429.1H907.5M783.1,401.4H907.5" stroke="#dfdfdf" stroke-width="0.8" fill="none"/><g fill="#0072bd"><circle cx="787.5" cy="405.7" r="2.4"/><circle cx="788.1" cy="402.8" r="2.4"/><circle cx="790.3" cy="411.6" r="2.4"/><circle cx="796.8" cy="427.4" r="2.4"/><circle cx="804.6" cy="450.7" r="2.4"/><circle cx="807.5" cy="452.9" r="2.4"/><circle cx="810.5" cy="459.0" r="2.4"/><circle cx="813.3" cy="457.4" r="2.4"/><circle cx="816.3" cy="461.8" r="2.4"/><circle cx="820.2" cy="461.4" r="2.4"/><circle cx="822.2" cy="464.7" r="2.4"/><circle cx="822.9" cy="464.3" r="2.4"/><circle cx="832.9" cy="466.7" r="2.4"/><circle cx="835.8" cy="467.4" r="2.4"/><circle cx="836.2" cy="467.4" r="2.4"/><circle cx="842.7" cy="467.8" r="2.4"/><circle cx="844.1" cy="467.7" r="2.4"/><circle cx="856.4" cy="467.9" r="2.4"/><circle cx="871.4" cy="470.5" r="2.4"/><circle cx="872.9" cy="468.2" r="2.4"/><circle cx="873.9" cy="468.8" r="2.4"/><circle cx="880.8" cy="470.2" r="2.4"/><circle cx="890.5" cy="469.5" r="2.4"/><circle cx="891.5" cy="470.6" r="2.4"/><circle cx="798.0" cy="435.9" r="2.4"/><circle cx="800.5" cy="440.6" r="2.4"/><circle cx="805.5" cy="453.9" r="2.4"/><circle cx="792.4" cy="404.0" r="2.4"/><circle cx="793.7" cy="412.8" r="2.4"/><circle cx="794.9" cy="426.6" r="2.4"/><circle cx="796.2" cy="430.9" r="2.4"/><circle cx="796.8" cy="435.2" r="2.4"/><circle cx="798.6" cy="434.6" r="2.4"/><circle cx="799.9" cy="435.6" r="2.4"/><circle cx="801.8" cy="442.4" r="2.4"/><circle cx="803.0" cy="443.9" r="2.4"/><circle cx="797.1" cy="435.6" r="2.4"/><circle cx="799.2" cy="432.7" r="2.4"/><circle cx="792.6" cy="411.6" r="2.4"/><circle cx="800.3" cy="444.1" r="2.4"/><circle cx="800.7" cy="443.3" r="2.4"/><circle cx="800.6" cy="440.8" r="2.4"/><circle cx="793.4" cy="407.4" r="2.4"/><circle cx="790.9" cy="404.6" r="2.4"/><circle cx="793.8" cy="411.6" r="2.4"/><circle cx="796.1" cy="438.8" r="2.4"/><circle cx="805.5" cy="455.6" r="2.4"/></g><g fill="#d95319"><circle cx="794.9" cy="423.1" r="2.4"/><circle cx="796.8" cy="436.6" r="2.4"/><circle cx="798.0" cy="441.5" r="2.4"/><circle cx="801.6" cy="442.9" r="2.4"/><circle cx="804.6" cy="452.7" r="2.4"/><circle cx="805.1" cy="449.7" r="2.4"/><circle cx="810.5" cy="456.5" r="2.4"/><circle cx="812.3" cy="459.8" r="2.4"/><circle cx="813.3" cy="460.3" r="2.4"/><circle cx="814.9" cy="459.2" r="2.4"/><circle cx="816.3" cy="461.5" r="2.4"/><circle cx="817.7" cy="460.9" r="2.4"/><circle cx="821.2" cy="463.8" r="2.4"/><circle cx="820.8" cy="463.8" r="2.4"/><circle cx="822.2" cy="465.1" r="2.4"/><circle cx="827.0" cy="465.4" r="2.4"/><circle cx="828.6" cy="467.8" r="2.4"/><circle cx="822.2" cy="463.0" r="2.4"/><circle cx="826.0" cy="467.0" r="2.4"/><circle cx="830.0" cy="466.4" r="2.4"/><circle cx="824.2" cy="464.4" r="2.4"/><circle cx="833.9" cy="468.0" r="2.4"/><circle cx="838.7" cy="468.3" r="2.4"/><circle cx="853.4" cy="467.5" r="2.4"/><circle cx="855.9" cy="469.4" r="2.4"/><circle cx="860.9" cy="467.6" r="2.4"/><circle cx="866.1" cy="466.7" r="2.4"/><circle cx="862.6" cy="466.2" r="2.4"/><circle cx="858.2" cy="469.0" r="2.4"/><circle cx="871.4" cy="468.7" r="2.4"/><circle cx="873.9" cy="467.0" r="2.4"/><circle cx="884.6" cy="466.9" r="2.4"/><circle cx="891.1" cy="470.3" r="2.4"/><circle cx="810.5" cy="456.6" r="2.4"/><circle cx="813.3" cy="457.6" r="2.4"/><circle cx="868.9" cy="468.0" r="2.4"/><circle cx="857.7" cy="467.3" r="2.4"/><circle cx="794.4" cy="423.3" r="2.4"/><circle cx="794.2" cy="426.2" r="2.4"/><circle cx="794.1" cy="412.4" r="2.4"/><circle cx="794.8" cy="415.3" r="2.4"/><circle cx="794.7" cy="423.8" r="2.4"/><circle cx="794.6" cy="425.9" r="2.4"/><circle cx="794.2" cy="420.9" r="2.4"/><circle cx="795.2" cy="428.7" r="2.4"/><circle cx="796.5" cy="427.4" r="2.4"/><circle cx="796.4" cy="429.1" r="2.4"/><circle cx="795.7" cy="428.6" r="2.4"/><circle cx="803.8" cy="447.1" r="2.4"/><circle cx="805.2" cy="450.5" r="2.4"/><circle cx="802.2" cy="442.3" r="2.4"/><circle cx="793.4" cy="408.6" r="2.4"/><circle cx="799.8" cy="434.0" r="2.4"/><circle cx="801.4" cy="441.6" r="2.4"/><circle cx="798.3" cy="433.3" r="2.4"/><circle cx="798.5" cy="441.4" r="2.4"/><circle cx="801.5" cy="443.1" r="2.4"/><circle cx="803.1" cy="451.0" r="2.4"/><circle cx="801.0" cy="440.9" r="2.4"/><circle cx="794.8" cy="419.7" r="2.4"/><circle cx="802.4" cy="445.0" r="2.4"/><circle cx="797.5" cy="432.1" r="2.4"/><circle cx="798.2" cy="443.1" r="2.4"/><circle cx="803.0" cy="451.3" r="2.4"/><circle cx="797.8" cy="441.3" r="2.4"/><circle cx="804.9" cy="447.7" r="2.4"/><circle cx="795.5" cy="430.4" r="2.4"/><circle cx="800.0" cy="444.1" r="2.4"/><circle cx="797.8" cy="437.3" r="2.4"/><circle cx="804.9" cy="449.5" r="2.4"/><circle cx="800.4" cy="442.8" r="2.4"/><circle cx="804.1" cy="449.7" r="2.4"/><circle cx="802.8" cy="446.3" r="2.4"/><circle cx="794.1" cy="416.2" r="2.4"/><circle cx="793.7" cy="410.9" r="2.4"/><circle cx="796.8" cy="430.9" r="2.4"/><circle cx="794.6" cy="422.5" r="2.4"/><circle cx="793.3" cy="410.7" r="2.4"/><circle cx="794.6" cy="411.7" r="2.4"/><circle cx="797.1" cy="438.7" r="2.4"/><circle cx="805.4" cy="450.9" r="2.4"/><circle cx="793.9" cy="409.0" r="2.4"/><circle cx="795.9" cy="433.5" r="2.4"/><circle cx="793.2" cy="406.4" r="2.4"/><circle cx="794.6" cy="420.5" r="2.4"/></g><path d="M783.1,401.4V484.4H907.5M783.1,484.4v-1.6M845.3,484.4v-1.6M907.5,484.4v-1.6M783.1,484.4h1.6M783.1,456.7h1.6M783.1,429.1h1.6M783.1,401.4h1.6" stroke="#262626" stroke-width="1.1" fill="none"/><g font-family="'Liberation Sans', sans-serif" font-size="9.3" fill="#262626"><text x="783.1" y="495.7" text-anchor="middle">0</text><text x="845.3" y="495.7" text-anchor="middle">0.5</text><text x="907.5" y="495.7" text-anchor="middle">1</text><text x="780.5" y="487.8" text-anchor="end">0</text><text x="780.5" y="460.1" text-anchor="end">5</text><text x="780.5" y="432.5" text-anchor="end">10</text><text x="780.5" y="404.8" text-anchor="end">15</text><text x="828.2" y="510.0" font-size="10.6" textLength="34.2" lengthAdjust="spacingAndGlyphs"><tspan font-style="italic" fill="#555">η</tspan> [Pa s]</text><text transform="translate(761.1,463.1) rotate(-90)" font-size="10.6" textLength="40.5" lengthAdjust="spacingAndGlyphs">d<tspan font-size="7.5" dy="2.5">32</tspan><tspan dy="-2.5"> [</tspan><tspan font-style="italic">μ</tspan>m]</text></g><path d="M1008.9,401.4V484.4M1071.2,401.4V484.4M946.6,456.7H1071.2M946.6,429.1H1071.2M946.6,401.4H1071.2" stroke="#dfdfdf" stroke-width="0.8" fill="none"/><g fill="#0072bd"><circle cx="959.8" cy="476.1" r="2.4"/><circle cx="959.3" cy="475.9" r="2.4"/><circle cx="979.7" cy="471.7" r="2.4"/><circle cx="1011.1" cy="453.1" r="2.4"/><circle cx="1028.7" cy="440.8" r="2.4"/><circle cx="1021.4" cy="440.8" r="2.4"/><circle cx="1043.8" cy="433.2" r="2.4"/><circle cx="1000.8" cy="433.0" r="2.4"/><circle cx="984.7" cy="427.1" r="2.4"/><circle cx="1031.3" cy="422.6" r="2.4"/><circle cx="1011.1" cy="420.0" r="2.4"/><circle cx="1041.9" cy="424.4" r="2.4"/><circle cx="1005.2" cy="416.7" r="2.4"/><circle cx="1006.4" cy="414.7" r="2.4"/><circle cx="998.9" cy="413.3" r="2.4"/><circle cx="1027.6" cy="416.5" r="2.4"/><circle cx="1013.1" cy="415.2" r="2.4"/><circle cx="1033.1" cy="412.8" r="2.4"/><circle cx="1051.3" cy="412.2" r="2.4"/><circle cx="1046.3" cy="408.9" r="2.4"/><circle cx="1056.2" cy="406.1" r="2.4"/><circle cx="1052.5" cy="407.0" r="2.4"/><circle cx="1048.3" cy="406.1" r="2.4"/><circle cx="1055.0" cy="403.6" r="2.4"/><circle cx="962.8" cy="444.2" r="2.4"/><circle cx="977.4" cy="440.3" r="2.4"/><circle cx="995.2" cy="439.9" r="2.4"/><circle cx="964.0" cy="467.5" r="2.4"/><circle cx="969.0" cy="455.6" r="2.4"/><circle cx="974.0" cy="453.9" r="2.4"/><circle cx="961.6" cy="452.0" r="2.4"/><circle cx="980.2" cy="450.6" r="2.4"/><circle cx="987.7" cy="438.8" r="2.4"/><circle cx="971.5" cy="448.4" r="2.4"/><circle cx="985.2" cy="438.5" r="2.4"/><circle cx="992.7" cy="442.0" r="2.4"/><circle cx="988.3" cy="448.9" r="2.4"/><circle cx="980.3" cy="442.6" r="2.4"/><circle cx="970.7" cy="462.7" r="2.4"/><circle cx="984.8" cy="442.8" r="2.4"/><circle cx="999.1" cy="439.9" r="2.4"/><circle cx="995.5" cy="439.6" r="2.4"/><circle cx="967.9" cy="461.4" r="2.4"/><circle cx="959.8" cy="472.2" r="2.4"/><circle cx="972.6" cy="459.4" r="2.4"/><circle cx="984.5" cy="454.8" r="2.4"/><circle cx="1028.8" cy="441.5" r="2.4"/></g><g fill="#d95319"><circle cx="1016.4" cy="472.4" r="2.4"/><circle cx="1006.4" cy="465.4" r="2.4"/><circle cx="1003.9" cy="459.5" r="2.4"/><circle cx="1018.4" cy="451.9" r="2.4"/><circle cx="1021.4" cy="445.6" r="2.4"/><circle cx="1002.7" cy="444.4" r="2.4"/><circle cx="1001.4" cy="436.8" r="2.4"/><circle cx="1020.7" cy="434.7" r="2.4"/><circle cx="1025.7" cy="434.8" r="2.4"/><circle cx="1005.2" cy="432.7" r="2.4"/><circle cx="1013.1" cy="431.9" r="2.4"/><circle cx="1047.5" cy="429.9" r="2.4"/><circle cx="1052.1" cy="426.2" r="2.4"/><circle cx="1037.6" cy="425.8" r="2.4"/><circle cx="1033.8" cy="425.9" r="2.4"/><circle cx="1045.0" cy="422.0" r="2.4"/><circle cx="1038.8" cy="423.0" r="2.4"/><circle cx="1027.2" cy="428.0" r="2.4"/><circle cx="1022.6" cy="424.2" r="2.4"/><circle cx="1020.1" cy="425.0" r="2.4"/><circle cx="1006.4" cy="425.4" r="2.4"/><circle cx="1011.4" cy="421.7" r="2.4"/><circle cx="1028.1" cy="420.7" r="2.4"/><circle cx="1032.2" cy="413.9" r="2.4"/><circle cx="1026.3" cy="412.7" r="2.4"/><circle cx="1042.5" cy="408.3" r="2.4"/><circle cx="1011.1" cy="409.9" r="2.4"/><circle cx="998.8" cy="410.3" r="2.4"/><circle cx="987.1" cy="411.6" r="2.4"/><circle cx="990.0" cy="405.5" r="2.4"/><circle cx="1036.1" cy="407.3" r="2.4"/><circle cx="1038.3" cy="403.6" r="2.4"/><circle cx="1039.6" cy="405.3" r="2.4"/><circle cx="977.8" cy="437.1" r="2.4"/><circle cx="975.0" cy="432.6" r="2.4"/><circle cx="1040.0" cy="407.8" r="2.4"/><circle cx="1036.3" cy="410.4" r="2.4"/><circle cx="959.8" cy="473.0" r="2.4"/><circle cx="959.5" cy="474.6" r="2.4"/><circle cx="966.3" cy="473.5" r="2.4"/><circle cx="964.1" cy="474.7" r="2.4"/><circle cx="961.6" cy="472.7" r="2.4"/><circle cx="960.6" cy="472.0" r="2.4"/><circle cx="959.6" cy="474.7" r="2.4"/><circle cx="969.2" cy="467.5" r="2.4"/><circle cx="971.2" cy="466.8" r="2.4"/><circle cx="974.9" cy="464.2" r="2.4"/><circle cx="968.5" cy="467.6" r="2.4"/><circle cx="995.9" cy="446.1" r="2.4"/><circle cx="988.0" cy="443.8" r="2.4"/><circle cx="979.6" cy="450.1" r="2.4"/><circle cx="963.5" cy="477.7" r="2.4"/><circle cx="986.8" cy="455.2" r="2.4"/><circle cx="986.0" cy="451.7" r="2.4"/><circle cx="981.6" cy="459.5" r="2.4"/><circle cx="978.8" cy="460.1" r="2.4"/><circle cx="987.3" cy="451.7" r="2.4"/><circle cx="984.9" cy="445.4" r="2.4"/><circle cx="973.6" cy="452.7" r="2.4"/><circle cx="958.6" cy="471.0" r="2.4"/><circle cx="979.6" cy="447.7" r="2.4"/><circle cx="979.8" cy="462.9" r="2.4"/><circle cx="975.5" cy="458.7" r="2.4"/><circle cx="996.3" cy="448.4" r="2.4"/><circle cx="970.5" cy="461.4" r="2.4"/><circle cx="987.7" cy="446.3" r="2.4"/><circle cx="961.2" cy="467.2" r="2.4"/><circle cx="975.2" cy="454.6" r="2.4"/><circle cx="970.8" cy="462.4" r="2.4"/><circle cx="998.3" cy="444.7" r="2.4"/><circle cx="984.6" cy="452.7" r="2.4"/><circle cx="997.9" cy="447.3" r="2.4"/><circle cx="986.1" cy="448.8" r="2.4"/><circle cx="964.8" cy="475.1" r="2.4"/><circle cx="958.8" cy="476.9" r="2.4"/><circle cx="961.6" cy="463.3" r="2.4"/><circle cx="959.3" cy="473.4" r="2.4"/><circle cx="967.2" cy="478.1" r="2.4"/><circle cx="959.3" cy="473.5" r="2.4"/><circle cx="963.8" cy="463.3" r="2.4"/><circle cx="995.5" cy="443.7" r="2.4"/><circle cx="959.3" cy="473.1" r="2.4"/><circle cx="974.3" cy="466.0" r="2.4"/><circle cx="968.6" cy="478.1" r="2.4"/><circle cx="964.4" cy="471.3" r="2.4"/></g><path d="M946.6,401.4V484.4H1071.2M946.6,484.4v-1.6M1008.9,484.4v-1.6M1071.2,484.4v-1.6M946.6,484.4h1.6M946.6,456.7h1.6M946.6,429.1h1.6M946.6,401.4h1.6" stroke="#262626" stroke-width="1.1" fill="none"/><g font-family="'Liberation Sans', sans-serif" font-size="9.3" fill="#262626"><text x="946.6" y="495.7" text-anchor="middle">0</text><text x="1008.9" y="495.7" text-anchor="middle">50</text><text x="1071.2" y="495.7" text-anchor="middle">100</text><text x="944.0" y="487.8" text-anchor="end">0.5</text><text x="944.0" y="460.1" text-anchor="end">0.6</text><text x="944.0" y="432.5" text-anchor="end">0.7</text><text x="944.0" y="404.8" text-anchor="end">0.8</text><text x="944.9" y="512.0" font-size="10.6" textLength="128" lengthAdjust="spacingAndGlyphs">Colloid Mill energy [10<tspan font-size="8.6" dy="-4.6">3</tspan><tspan dy="4.6"> kJ]</tspan></text><text transform="translate(928.1,452.9) rotate(-90)" font-size="10.6" textLength="20" lengthAdjust="spacingAndGlyphs"><tspan font-style="italic" fill="#555">ϕ</tspan> [-]</text></g><path d="M1173.2,401.4V484.4M1235.6,401.4V484.4M1110.8,456.0H1235.6M1110.8,428.6H1235.6" stroke="#dfdfdf" stroke-width="0.8" fill="none"/><g fill="#0072bd"><circle cx="1124.0" cy="481.9" r="2.4"/><circle cx="1123.5" cy="475.8" r="2.4"/><circle cx="1144.0" cy="448.7" r="2.4"/><circle cx="1175.4" cy="432.4" r="2.4"/><circle cx="1193.0" cy="407.9" r="2.4"/><circle cx="1185.7" cy="417.2" r="2.4"/><circle cx="1208.1" cy="405.0" r="2.4"/><circle cx="1165.1" cy="423.5" r="2.4"/><circle cx="1149.0" cy="451.4" r="2.4"/><circle cx="1195.7" cy="406.0" r="2.4"/><circle cx="1175.4" cy="420.1" r="2.4"/><circle cx="1206.3" cy="403.9" r="2.4"/><circle cx="1169.5" cy="436.2" r="2.4"/><circle cx="1170.7" cy="427.5" r="2.4"/><circle cx="1163.2" cy="434.8" r="2.4"/><circle cx="1191.9" cy="409.5" r="2.4"/><circle cx="1177.4" cy="424.1" r="2.4"/><circle cx="1197.4" cy="407.9" r="2.4"/><circle cx="1215.6" cy="406.9" r="2.4"/><circle cx="1210.6" cy="407.8" r="2.4"/><circle cx="1220.6" cy="407.8" r="2.4"/><circle cx="1216.9" cy="404.8" r="2.4"/><circle cx="1212.6" cy="405.7" r="2.4"/><circle cx="1219.4" cy="406.4" r="2.4"/><circle cx="1127.0" cy="472.1" r="2.4"/><circle cx="1141.6" cy="465.6" r="2.4"/><circle cx="1159.5" cy="433.8" r="2.4"/><circle cx="1128.3" cy="479.7" r="2.4"/><circle cx="1133.3" cy="469.6" r="2.4"/><circle cx="1138.3" cy="464.2" r="2.4"/><circle cx="1125.8" cy="484.2" r="2.4"/><circle cx="1144.5" cy="453.9" r="2.4"/><circle cx="1152.0" cy="436.8" r="2.4"/><circle cx="1135.8" cy="467.6" r="2.4"/><circle cx="1149.5" cy="446.6" r="2.4"/><circle cx="1157.0" cy="437.2" r="2.4"/><circle cx="1152.6" cy="444.0" r="2.4"/><circle cx="1144.6" cy="454.8" r="2.4"/><circle cx="1135.0" cy="469.6" r="2.4"/><circle cx="1149.0" cy="454.2" r="2.4"/><circle cx="1163.3" cy="435.6" r="2.4"/><circle cx="1159.8" cy="430.8" r="2.4"/><circle cx="1132.1" cy="473.6" r="2.4"/><circle cx="1124.0" cy="478.1" r="2.4"/><circle cx="1136.8" cy="469.6" r="2.4"/><circle cx="1148.8" cy="433.6" r="2.4"/><circle cx="1193.2" cy="401.7" r="2.4"/></g><g fill="#d95319"><circle cx="1180.7" cy="418.8" r="2.4"/><circle cx="1170.7" cy="446.8" r="2.4"/><circle cx="1168.2" cy="438.7" r="2.4"/><circle cx="1182.7" cy="418.5" r="2.4"/><circle cx="1185.7" cy="415.0" r="2.4"/><circle cx="1167.0" cy="442.3" r="2.4"/><circle cx="1165.7" cy="440.8" r="2.4"/><circle cx="1185.1" cy="402.9" r="2.4"/><circle cx="1190.0" cy="409.9" r="2.4"/><circle cx="1169.5" cy="433.6" r="2.4"/><circle cx="1177.4" cy="425.6" r="2.4"/><circle cx="1211.9" cy="404.5" r="2.4"/><circle cx="1216.5" cy="405.2" r="2.4"/><circle cx="1201.9" cy="408.3" r="2.4"/><circle cx="1198.2" cy="408.1" r="2.4"/><circle cx="1209.4" cy="408.2" r="2.4"/><circle cx="1203.2" cy="407.7" r="2.4"/><circle cx="1191.5" cy="408.1" r="2.4"/><circle cx="1186.9" cy="411.5" r="2.4"/><circle cx="1184.4" cy="425.3" r="2.4"/><circle cx="1170.7" cy="434.0" r="2.4"/><circle cx="1175.7" cy="429.7" r="2.4"/><circle cx="1192.4" cy="405.5" r="2.4"/><circle cx="1196.5" cy="405.6" r="2.4"/><circle cx="1190.7" cy="411.1" r="2.4"/><circle cx="1206.9" cy="410.7" r="2.4"/><circle cx="1175.4" cy="433.1" r="2.4"/><circle cx="1163.1" cy="437.2" r="2.4"/><circle cx="1151.4" cy="454.1" r="2.4"/><circle cx="1154.2" cy="454.1" r="2.4"/><circle cx="1200.4" cy="403.9" r="2.4"/><circle cx="1202.7" cy="405.3" r="2.4"/><circle cx="1203.9" cy="404.3" r="2.4"/><circle cx="1142.0" cy="458.1" r="2.4"/><circle cx="1139.3" cy="477.6" r="2.4"/><circle cx="1204.4" cy="402.5" r="2.4"/><circle cx="1200.7" cy="405.9" r="2.4"/><circle cx="1124.0" cy="473.0" r="2.4"/><circle cx="1123.7" cy="473.8" r="2.4"/><circle cx="1130.5" cy="478.3" r="2.4"/><circle cx="1128.3" cy="482.4" r="2.4"/><circle cx="1125.8" cy="479.0" r="2.4"/><circle cx="1124.9" cy="477.9" r="2.4"/><circle cx="1123.8" cy="483.1" r="2.4"/><circle cx="1133.5" cy="469.5" r="2.4"/><circle cx="1135.5" cy="472.8" r="2.4"/><circle cx="1139.1" cy="475.1" r="2.4"/><circle cx="1132.7" cy="471.6" r="2.4"/><circle cx="1160.2" cy="446.2" r="2.4"/><circle cx="1152.3" cy="452.8" r="2.4"/><circle cx="1143.9" cy="463.8" r="2.4"/><circle cx="1127.7" cy="467.1" r="2.4"/><circle cx="1151.1" cy="436.4" r="2.4"/><circle cx="1150.3" cy="439.9" r="2.4"/><circle cx="1145.9" cy="452.2" r="2.4"/><circle cx="1143.0" cy="458.7" r="2.4"/><circle cx="1151.6" cy="439.7" r="2.4"/><circle cx="1149.2" cy="463.5" r="2.4"/><circle cx="1137.8" cy="472.6" r="2.4"/><circle cx="1122.8" cy="484.2" r="2.4"/><circle cx="1143.9" cy="456.3" r="2.4"/><circle cx="1144.0" cy="461.1" r="2.4"/><circle cx="1139.8" cy="451.0" r="2.4"/><circle cx="1160.6" cy="444.4" r="2.4"/><circle cx="1134.7" cy="470.6" r="2.4"/><circle cx="1152.0" cy="450.1" r="2.4"/><circle cx="1125.5" cy="482.0" r="2.4"/><circle cx="1139.5" cy="463.1" r="2.4"/><circle cx="1135.0" cy="473.7" r="2.4"/><circle cx="1162.6" cy="440.8" r="2.4"/><circle cx="1148.8" cy="451.3" r="2.4"/><circle cx="1162.2" cy="427.6" r="2.4"/><circle cx="1150.3" cy="462.5" r="2.4"/><circle cx="1129.1" cy="469.1" r="2.4"/><circle cx="1123.1" cy="484.2" r="2.4"/><circle cx="1125.8" cy="471.4" r="2.4"/><circle cx="1123.6" cy="478.5" r="2.4"/><circle cx="1131.4" cy="470.8" r="2.4"/><circle cx="1123.5" cy="484.2" r="2.4"/><circle cx="1128.1" cy="474.2" r="2.4"/><circle cx="1159.8" cy="431.7" r="2.4"/><circle cx="1123.5" cy="481.1" r="2.4"/><circle cx="1138.5" cy="454.3" r="2.4"/><circle cx="1132.9" cy="461.3" r="2.4"/><circle cx="1128.7" cy="481.4" r="2.4"/></g><path d="M1110.8,401.4V484.4H1235.6M1110.8,484.4v-1.6M1173.2,484.4v-1.6M1235.6,484.4v-1.6M1110.8,483.4h1.6M1110.8,456.0h1.6M1110.8,428.6h1.6" stroke="#262626" stroke-width="1.1" fill="none"/><g font-family="'Liberation Sans', sans-serif" font-size="9.3" fill="#262626"><text x="1110.8" y="495.7" text-anchor="middle">0</text><text x="1173.2" y="495.7" text-anchor="middle">50</text><text x="1235.6" y="495.7" text-anchor="middle">100</text><text x="1108.2" y="486.8" text-anchor="end">1</text><text x="1108.2" y="459.4" text-anchor="end">1.5</text><text x="1108.2" y="432.0" text-anchor="end">2</text><text x="1109.2" y="512.0" font-size="10.6" textLength="128" lengthAdjust="spacingAndGlyphs">Colloid Mill energy [10<tspan font-size="8.6" dy="-4.6">3</tspan><tspan dy="4.6"> kJ]</tspan></text><text transform="translate(1091.0,472.1) rotate(-90)" font-size="10.6" textLength="58.5" lengthAdjust="spacingAndGlyphs">final time [hr]</text></g><path d="M845.3,528.3V611.0M907.5,528.3V611.0M783.1,583.4H907.5M783.1,555.9H907.5M783.1,528.3H907.5" stroke="#dfdfdf" stroke-width="0.8" fill="none"/><g fill="#0072bd"><circle cx="796.3" cy="532.6" r="2.4"/><circle cx="795.8" cy="529.7" r="2.4"/><circle cx="816.2" cy="538.5" r="2.4"/><circle cx="847.5" cy="554.2" r="2.4"/><circle cx="865.1" cy="577.4" r="2.4"/><circle cx="857.7" cy="579.6" r="2.4"/><circle cx="880.1" cy="585.7" r="2.4"/><circle cx="837.2" cy="584.1" r="2.4"/><circle cx="821.2" cy="588.5" r="2.4"/><circle cx="867.7" cy="588.1" r="2.4"/><circle cx="847.5" cy="591.4" r="2.4"/><circle cx="878.3" cy="591.0" r="2.4"/><circle cx="841.6" cy="593.3" r="2.4"/><circle cx="842.8" cy="594.1" r="2.4"/><circle cx="835.3" cy="594.0" r="2.4"/><circle cx="864.0" cy="594.5" r="2.4"/><circle cx="849.5" cy="594.4" r="2.4"/><circle cx="869.4" cy="594.6" r="2.4"/><circle cx="887.6" cy="597.2" r="2.4"/><circle cx="882.6" cy="594.8" r="2.4"/><circle cx="892.6" cy="595.4" r="2.4"/><circle cx="888.8" cy="596.8" r="2.4"/><circle cx="884.6" cy="596.1" r="2.4"/><circle cx="891.3" cy="597.3" r="2.4"/><circle cx="799.3" cy="562.7" r="2.4"/><circle cx="813.8" cy="567.4" r="2.4"/><circle cx="831.6" cy="580.6" r="2.4"/><circle cx="800.5" cy="530.9" r="2.4"/><circle cx="805.5" cy="539.6" r="2.4"/><circle cx="810.5" cy="553.4" r="2.4"/><circle cx="798.0" cy="557.7" r="2.4"/><circle cx="816.7" cy="562.0" r="2.4"/><circle cx="824.2" cy="561.4" r="2.4"/><circle cx="808.0" cy="562.4" r="2.4"/><circle cx="821.7" cy="569.2" r="2.4"/><circle cx="829.1" cy="570.6" r="2.4"/><circle cx="824.8" cy="562.4" r="2.4"/><circle cx="816.8" cy="559.5" r="2.4"/><circle cx="807.2" cy="538.5" r="2.4"/><circle cx="821.2" cy="570.8" r="2.4"/><circle cx="835.5" cy="570.1" r="2.4"/><circle cx="832.0" cy="567.6" r="2.4"/><circle cx="804.4" cy="534.3" r="2.4"/><circle cx="796.2" cy="531.5" r="2.4"/><circle cx="809.0" cy="538.4" r="2.4"/><circle cx="820.9" cy="565.6" r="2.4"/><circle cx="865.2" cy="582.3" r="2.4"/></g><g fill="#d95319"><circle cx="852.8" cy="550.0" r="2.4"/><circle cx="842.8" cy="563.4" r="2.4"/><circle cx="840.3" cy="568.3" r="2.4"/><circle cx="854.8" cy="569.6" r="2.4"/><circle cx="857.7" cy="579.4" r="2.4"/><circle cx="839.1" cy="576.4" r="2.4"/><circle cx="837.8" cy="583.2" r="2.4"/><circle cx="857.1" cy="586.5" r="2.4"/><circle cx="862.1" cy="587.0" r="2.4"/><circle cx="841.6" cy="585.9" r="2.4"/><circle cx="849.5" cy="588.2" r="2.4"/><circle cx="883.9" cy="587.6" r="2.4"/><circle cx="888.5" cy="590.5" r="2.4"/><circle cx="873.9" cy="590.5" r="2.4"/><circle cx="870.2" cy="591.8" r="2.4"/><circle cx="881.4" cy="592.0" r="2.4"/><circle cx="875.2" cy="594.4" r="2.4"/><circle cx="863.6" cy="589.7" r="2.4"/><circle cx="859.0" cy="593.6" r="2.4"/><circle cx="856.5" cy="593.1" r="2.4"/><circle cx="842.8" cy="591.0" r="2.4"/><circle cx="847.8" cy="594.6" r="2.4"/><circle cx="864.5" cy="594.9" r="2.4"/><circle cx="868.6" cy="594.1" r="2.4"/><circle cx="862.7" cy="596.1" r="2.4"/><circle cx="878.9" cy="594.3" r="2.4"/><circle cx="847.5" cy="593.4" r="2.4"/><circle cx="835.2" cy="592.8" r="2.4"/><circle cx="823.5" cy="595.6" r="2.4"/><circle cx="826.4" cy="595.4" r="2.4"/><circle cx="872.4" cy="593.7" r="2.4"/><circle cx="874.7" cy="593.5" r="2.4"/><circle cx="875.9" cy="597.0" r="2.4"/><circle cx="814.2" cy="583.3" r="2.4"/><circle cx="811.5" cy="584.3" r="2.4"/><circle cx="876.4" cy="594.7" r="2.4"/><circle cx="872.7" cy="594.0" r="2.4"/><circle cx="796.3" cy="550.1" r="2.4"/><circle cx="796.0" cy="553.0" r="2.4"/><circle cx="802.7" cy="539.3" r="2.4"/><circle cx="800.6" cy="542.2" r="2.4"/><circle cx="798.1" cy="550.6" r="2.4"/><circle cx="797.1" cy="552.7" r="2.4"/><circle cx="796.1" cy="547.7" r="2.4"/><circle cx="805.7" cy="555.5" r="2.4"/><circle cx="807.7" cy="554.2" r="2.4"/><circle cx="811.3" cy="555.9" r="2.4"/><circle cx="804.9" cy="555.4" r="2.4"/><circle cx="832.3" cy="573.8" r="2.4"/><circle cx="824.4" cy="577.3" r="2.4"/><circle cx="816.1" cy="569.0" r="2.4"/><circle cx="799.9" cy="535.5" r="2.4"/><circle cx="823.2" cy="560.8" r="2.4"/><circle cx="822.4" cy="568.3" r="2.4"/><circle cx="818.0" cy="560.1" r="2.4"/><circle cx="815.2" cy="568.2" r="2.4"/><circle cx="823.7" cy="569.8" r="2.4"/><circle cx="821.3" cy="577.7" r="2.4"/><circle cx="810.0" cy="567.7" r="2.4"/><circle cx="795.1" cy="546.6" r="2.4"/><circle cx="816.1" cy="571.8" r="2.4"/><circle cx="816.2" cy="558.9" r="2.4"/><circle cx="812.0" cy="569.9" r="2.4"/><circle cx="832.8" cy="578.0" r="2.4"/><circle cx="806.9" cy="568.0" r="2.4"/><circle cx="824.2" cy="574.4" r="2.4"/><circle cx="797.7" cy="557.2" r="2.4"/><circle cx="811.7" cy="570.8" r="2.4"/><circle cx="807.3" cy="564.1" r="2.4"/><circle cx="834.7" cy="576.2" r="2.4"/><circle cx="821.0" cy="569.6" r="2.4"/><circle cx="834.3" cy="576.4" r="2.4"/><circle cx="822.5" cy="573.0" r="2.4"/><circle cx="801.3" cy="543.1" r="2.4"/><circle cx="795.3" cy="537.7" r="2.4"/><circle cx="798.0" cy="557.7" r="2.4"/><circle cx="795.8" cy="549.3" r="2.4"/><circle cx="803.7" cy="537.6" r="2.4"/><circle cx="795.8" cy="538.5" r="2.4"/><circle cx="800.3" cy="565.5" r="2.4"/><circle cx="831.9" cy="577.6" r="2.4"/><circle cx="795.8" cy="535.8" r="2.4"/><circle cx="810.7" cy="560.2" r="2.4"/><circle cx="805.1" cy="533.2" r="2.4"/><circle cx="800.9" cy="547.3" r="2.4"/></g><path d="M783.1,528.3V611.0H907.5M783.1,611.0v-1.6M845.3,611.0v-1.6M907.5,611.0v-1.6M783.1,611.0h1.6M783.1,583.4h1.6M783.1,555.9h1.6M783.1,528.3h1.6" stroke="#262626" stroke-width="1.1" fill="none"/><g font-family="'Liberation Sans', sans-serif" font-size="9.3" fill="#262626"><text x="783.1" y="622.3" text-anchor="middle">0</text><text x="845.3" y="622.3" text-anchor="middle">50</text><text x="907.5" y="622.3" text-anchor="middle">100</text><text x="780.5" y="614.4" text-anchor="end">0</text><text x="780.5" y="586.8" text-anchor="end">5</text><text x="780.5" y="559.3" text-anchor="end">10</text><text x="780.5" y="531.7" text-anchor="end">15</text><text x="781.3" y="638.6" font-size="10.6" textLength="128" lengthAdjust="spacingAndGlyphs">Colloid Mill energy [10<tspan font-size="8.6" dy="-4.6">3</tspan><tspan dy="4.6"> kJ]</tspan></text><text transform="translate(761.1,589.9) rotate(-90)" font-size="10.6" textLength="40.5" lengthAdjust="spacingAndGlyphs">d<tspan font-size="7.5" dy="2.5">32</tspan><tspan dy="-2.5"> [</tspan><tspan font-style="italic">μ</tspan>m]</text></g><path d="M948.1,528.3V611.0M989.3,528.3V611.0M1030.4,528.3V611.0M946.6,583.4H1071.2M946.6,555.9H1071.2M946.6,528.3H1071.2" stroke="#dfdfdf" stroke-width="0.8" fill="none"/><g fill="#0072bd"><circle cx="950.4" cy="532.6" r="2.4"/><circle cx="959.5" cy="529.7" r="2.4"/><circle cx="1000.2" cy="538.5" r="2.4"/><circle cx="1024.7" cy="554.2" r="2.4"/><circle cx="1061.5" cy="577.4" r="2.4"/><circle cx="1047.5" cy="579.6" r="2.4"/><circle cx="1065.7" cy="585.7" r="2.4"/><circle cx="1038.0" cy="584.1" r="2.4"/><circle cx="996.2" cy="588.5" r="2.4"/><circle cx="1064.3" cy="588.1" r="2.4"/><circle cx="1043.1" cy="591.4" r="2.4"/><circle cx="1067.4" cy="591.0" r="2.4"/><circle cx="1018.9" cy="593.3" r="2.4"/><circle cx="1032.0" cy="594.1" r="2.4"/><circle cx="1021.1" cy="594.0" r="2.4"/><circle cx="1059.0" cy="594.5" r="2.4"/><circle cx="1037.2" cy="594.4" r="2.4"/><circle cx="1061.4" cy="594.6" r="2.4"/><circle cx="1063.0" cy="597.2" r="2.4"/><circle cx="1061.6" cy="594.8" r="2.4"/><circle cx="1061.6" cy="595.4" r="2.4"/><circle cx="1066.1" cy="596.8" r="2.4"/><circle cx="1064.8" cy="596.1" r="2.4"/><circle cx="1063.7" cy="597.3" r="2.4"/><circle cx="965.1" cy="562.7" r="2.4"/><circle cx="974.9" cy="567.4" r="2.4"/><circle cx="1022.6" cy="580.6" r="2.4"/><circle cx="953.7" cy="530.9" r="2.4"/><circle cx="968.8" cy="539.6" r="2.4"/><circle cx="976.9" cy="553.4" r="2.4"/><circle cx="946.8" cy="557.7" r="2.4"/><circle cx="992.4" cy="562.0" r="2.4"/><circle cx="1018.0" cy="561.4" r="2.4"/><circle cx="971.8" cy="562.4" r="2.4"/><circle cx="1003.4" cy="569.2" r="2.4"/><circle cx="1017.5" cy="570.6" r="2.4"/><circle cx="1007.3" cy="562.4" r="2.4"/><circle cx="991.1" cy="559.5" r="2.4"/><circle cx="968.9" cy="538.5" r="2.4"/><circle cx="991.9" cy="570.8" r="2.4"/><circle cx="1019.8" cy="570.1" r="2.4"/><circle cx="1027.1" cy="567.6" r="2.4"/><circle cx="962.8" cy="534.3" r="2.4"/><circle cx="956.0" cy="531.5" r="2.4"/><circle cx="968.9" cy="538.4" r="2.4"/><circle cx="1022.9" cy="565.6" r="2.4"/><circle cx="1070.8" cy="582.3" r="2.4"/></g><g fill="#d95319"><circle cx="1045.1" cy="550.0" r="2.4"/><circle cx="1003.1" cy="563.4" r="2.4"/><circle cx="1015.2" cy="568.3" r="2.4"/><circle cx="1045.6" cy="569.6" r="2.4"/><circle cx="1050.8" cy="579.4" r="2.4"/><circle cx="1009.8" cy="576.4" r="2.4"/><circle cx="1012.0" cy="583.2" r="2.4"/><circle cx="1068.9" cy="586.5" r="2.4"/><circle cx="1058.4" cy="587.0" r="2.4"/><circle cx="1022.8" cy="585.9" r="2.4"/><circle cx="1034.8" cy="588.2" r="2.4"/><circle cx="1066.6" cy="587.6" r="2.4"/><circle cx="1065.4" cy="590.5" r="2.4"/><circle cx="1060.8" cy="590.5" r="2.4"/><circle cx="1061.2" cy="591.8" r="2.4"/><circle cx="1060.9" cy="592.0" r="2.4"/><circle cx="1061.8" cy="594.4" r="2.4"/><circle cx="1061.1" cy="589.7" r="2.4"/><circle cx="1056.0" cy="593.6" r="2.4"/><circle cx="1035.4" cy="593.1" r="2.4"/><circle cx="1022.3" cy="591.0" r="2.4"/><circle cx="1028.7" cy="594.6" r="2.4"/><circle cx="1065.0" cy="594.9" r="2.4"/><circle cx="1065.0" cy="594.1" r="2.4"/><circle cx="1056.6" cy="596.1" r="2.4"/><circle cx="1057.2" cy="594.3" r="2.4"/><circle cx="1023.7" cy="593.4" r="2.4"/><circle cx="1017.5" cy="592.8" r="2.4"/><circle cx="992.0" cy="595.6" r="2.4"/><circle cx="992.0" cy="595.4" r="2.4"/><circle cx="1067.5" cy="593.7" r="2.4"/><circle cx="1065.4" cy="593.5" r="2.4"/><circle cx="1066.9" cy="597.0" r="2.4"/><circle cx="986.1" cy="583.3" r="2.4"/><circle cx="956.7" cy="584.3" r="2.4"/><circle cx="1069.6" cy="594.7" r="2.4"/><circle cx="1064.5" cy="594.0" r="2.4"/><circle cx="963.7" cy="550.1" r="2.4"/><circle cx="962.5" cy="553.0" r="2.4"/><circle cx="955.8" cy="539.3" r="2.4"/><circle cx="949.6" cy="542.2" r="2.4"/><circle cx="954.7" cy="550.6" r="2.4"/><circle cx="956.4" cy="552.7" r="2.4"/><circle cx="948.6" cy="547.7" r="2.4"/><circle cx="969.0" cy="555.5" r="2.4"/><circle cx="964.0" cy="554.2" r="2.4"/><circle cx="960.6" cy="555.9" r="2.4"/><circle cx="965.9" cy="555.4" r="2.4"/><circle cx="1003.9" cy="573.8" r="2.4"/><circle cx="994.0" cy="577.3" r="2.4"/><circle cx="977.5" cy="569.0" r="2.4"/><circle cx="972.5" cy="535.5" r="2.4"/><circle cx="1018.6" cy="560.8" r="2.4"/><circle cx="1013.4" cy="568.3" r="2.4"/><circle cx="995.0" cy="560.1" r="2.4"/><circle cx="985.2" cy="568.2" r="2.4"/><circle cx="1013.6" cy="569.8" r="2.4"/><circle cx="978.0" cy="577.7" r="2.4"/><circle cx="964.3" cy="567.7" r="2.4"/><circle cx="946.8" cy="546.6" r="2.4"/><circle cx="988.8" cy="571.8" r="2.4"/><circle cx="981.6" cy="558.9" r="2.4"/><circle cx="996.7" cy="569.9" r="2.4"/><circle cx="1006.7" cy="578.0" r="2.4"/><circle cx="967.4" cy="568.0" r="2.4"/><circle cx="998.1" cy="574.4" r="2.4"/><circle cx="950.2" cy="557.2" r="2.4"/><circle cx="978.5" cy="570.8" r="2.4"/><circle cx="962.6" cy="564.1" r="2.4"/><circle cx="1012.1" cy="576.2" r="2.4"/><circle cx="996.4" cy="569.6" r="2.4"/><circle cx="1031.9" cy="576.4" r="2.4"/><circle cx="979.5" cy="573.0" r="2.4"/><circle cx="969.6" cy="543.1" r="2.4"/><circle cx="946.8" cy="537.7" r="2.4"/><circle cx="966.0" cy="557.7" r="2.4"/><circle cx="955.5" cy="549.3" r="2.4"/><circle cx="967.0" cy="537.6" r="2.4"/><circle cx="946.8" cy="538.5" r="2.4"/><circle cx="961.9" cy="565.5" r="2.4"/><circle cx="1025.7" cy="577.6" r="2.4"/><circle cx="951.5" cy="535.8" r="2.4"/><circle cx="991.8" cy="560.2" r="2.4"/><circle cx="981.3" cy="533.2" r="2.4"/><circle cx="951.0" cy="547.3" r="2.4"/></g><path d="M946.6,528.3V611.0H1071.2M948.1,611.0v-1.6M989.3,611.0v-1.6M1030.4,611.0v-1.6M946.6,611.0h1.6M946.6,583.4h1.6M946.6,555.9h1.6M946.6,528.3h1.6" stroke="#262626" stroke-width="1.1" fill="none"/><g font-family="'Liberation Sans', sans-serif" font-size="9.3" fill="#262626"><text x="948.1" y="622.3" text-anchor="middle">1</text><text x="989.3" y="622.3" text-anchor="middle">1.5</text><text x="1030.4" y="622.3" text-anchor="middle">2</text><text x="944.0" y="614.4" text-anchor="end">0</text><text x="944.0" y="586.8" text-anchor="end">5</text><text x="944.0" y="559.3" text-anchor="end">10</text><text x="944.0" y="531.7" text-anchor="end">15</text><text x="979.7" y="636.6" font-size="10.6" textLength="58.5" lengthAdjust="spacingAndGlyphs">final time [hr]</text><text transform="translate(924.6,589.9) rotate(-90)" font-size="10.6" textLength="40.5" lengthAdjust="spacingAndGlyphs">d<tspan font-size="7.5" dy="2.5">32</tspan><tspan dy="-2.5"> [</tspan><tspan font-style="italic">μ</tspan>m]</text></g><path d="M1152.4,528.3V611.0M1194.0,528.3V611.0M1235.6,528.3V611.0M1110.8,583.4H1235.6M1110.8,555.9H1235.6M1110.8,528.3H1235.6" stroke="#dfdfdf" stroke-width="0.8" fill="none"/><g fill="#0072bd"><circle cx="1123.2" cy="532.6" r="2.4"/><circle cx="1123.6" cy="529.7" r="2.4"/><circle cx="1129.9" cy="538.5" r="2.4"/><circle cx="1157.9" cy="554.2" r="2.4"/><circle cx="1176.3" cy="577.4" r="2.4"/><circle cx="1176.4" cy="579.6" r="2.4"/><circle cx="1187.8" cy="585.7" r="2.4"/><circle cx="1188.1" cy="584.1" r="2.4"/><circle cx="1197.0" cy="588.5" r="2.4"/><circle cx="1203.7" cy="588.1" r="2.4"/><circle cx="1207.7" cy="591.4" r="2.4"/><circle cx="1201.1" cy="591.0" r="2.4"/><circle cx="1212.6" cy="593.3" r="2.4"/><circle cx="1215.7" cy="594.1" r="2.4"/><circle cx="1217.7" cy="594.0" r="2.4"/><circle cx="1212.9" cy="594.5" r="2.4"/><circle cx="1214.9" cy="594.4" r="2.4"/><circle cx="1218.5" cy="594.6" r="2.4"/><circle cx="1219.4" cy="597.2" r="2.4"/><circle cx="1224.3" cy="594.8" r="2.4"/><circle cx="1228.6" cy="595.4" r="2.4"/><circle cx="1227.1" cy="596.8" r="2.4"/><circle cx="1228.6" cy="596.1" r="2.4"/><circle cx="1232.3" cy="597.3" r="2.4"/><circle cx="1171.3" cy="562.7" r="2.4"/><circle cx="1177.2" cy="567.4" r="2.4"/><circle cx="1177.7" cy="580.6" r="2.4"/><circle cx="1136.1" cy="530.9" r="2.4"/><circle cx="1154.1" cy="539.6" r="2.4"/><circle cx="1156.7" cy="553.4" r="2.4"/><circle cx="1159.6" cy="557.7" r="2.4"/><circle cx="1161.6" cy="562.0" r="2.4"/><circle cx="1179.4" cy="561.4" r="2.4"/><circle cx="1164.9" cy="562.4" r="2.4"/><circle cx="1179.8" cy="569.2" r="2.4"/><circle cx="1174.6" cy="570.6" r="2.4"/><circle cx="1164.1" cy="562.4" r="2.4"/><circle cx="1173.7" cy="559.5" r="2.4"/><circle cx="1143.4" cy="538.5" r="2.4"/><circle cx="1173.4" cy="570.8" r="2.4"/><circle cx="1177.7" cy="570.1" r="2.4"/><circle cx="1178.1" cy="567.6" r="2.4"/><circle cx="1145.4" cy="534.3" r="2.4"/><circle cx="1129.2" cy="531.5" r="2.4"/><circle cx="1148.4" cy="538.4" r="2.4"/><circle cx="1155.3" cy="565.6" r="2.4"/><circle cx="1175.3" cy="582.3" r="2.4"/></g><g fill="#d95319"><circle cx="1128.9" cy="550.0" r="2.4"/><circle cx="1139.3" cy="563.4" r="2.4"/><circle cx="1148.3" cy="568.3" r="2.4"/><circle cx="1159.6" cy="569.6" r="2.4"/><circle cx="1169.1" cy="579.4" r="2.4"/><circle cx="1171.0" cy="576.4" r="2.4"/><circle cx="1182.4" cy="583.2" r="2.4"/><circle cx="1185.5" cy="586.5" r="2.4"/><circle cx="1185.4" cy="587.0" r="2.4"/><circle cx="1188.6" cy="585.9" r="2.4"/><circle cx="1189.7" cy="588.2" r="2.4"/><circle cx="1192.7" cy="587.6" r="2.4"/><circle cx="1198.3" cy="590.5" r="2.4"/><circle cx="1198.9" cy="590.5" r="2.4"/><circle cx="1198.7" cy="591.8" r="2.4"/><circle cx="1204.6" cy="592.0" r="2.4"/><circle cx="1203.1" cy="594.4" r="2.4"/><circle cx="1195.6" cy="589.7" r="2.4"/><circle cx="1201.3" cy="593.6" r="2.4"/><circle cx="1200.1" cy="593.1" r="2.4"/><circle cx="1199.6" cy="591.0" r="2.4"/><circle cx="1205.0" cy="594.6" r="2.4"/><circle cx="1206.6" cy="594.9" r="2.4"/><circle cx="1216.9" cy="594.1" r="2.4"/><circle cx="1218.6" cy="596.1" r="2.4"/><circle cx="1225.2" cy="594.3" r="2.4"/><circle cx="1222.7" cy="593.4" r="2.4"/><circle cx="1222.3" cy="592.8" r="2.4"/><circle cx="1220.3" cy="595.6" r="2.4"/><circle cx="1229.4" cy="595.4" r="2.4"/><circle cx="1226.7" cy="593.7" r="2.4"/><circle cx="1232.3" cy="593.5" r="2.4"/><circle cx="1229.7" cy="597.0" r="2.4"/><circle cx="1182.0" cy="583.3" r="2.4"/><circle cx="1188.7" cy="584.3" r="2.4"/><circle cx="1225.9" cy="594.7" r="2.4"/><circle cx="1222.1" cy="594.0" r="2.4"/><circle cx="1127.9" cy="550.1" r="2.4"/><circle cx="1125.5" cy="553.0" r="2.4"/><circle cx="1127.2" cy="539.3" r="2.4"/><circle cx="1125.3" cy="542.2" r="2.4"/><circle cx="1128.3" cy="550.6" r="2.4"/><circle cx="1129.4" cy="552.7" r="2.4"/><circle cx="1125.4" cy="547.7" r="2.4"/><circle cx="1136.2" cy="555.5" r="2.4"/><circle cx="1137.3" cy="554.2" r="2.4"/><circle cx="1141.2" cy="555.9" r="2.4"/><circle cx="1136.1" cy="555.4" r="2.4"/><circle cx="1168.4" cy="573.8" r="2.4"/><circle cx="1171.8" cy="577.3" r="2.4"/><circle cx="1162.3" cy="569.0" r="2.4"/><circle cx="1120.8" cy="535.5" r="2.4"/><circle cx="1154.6" cy="560.8" r="2.4"/><circle cx="1160.0" cy="568.3" r="2.4"/><circle cx="1148.2" cy="560.1" r="2.4"/><circle cx="1147.4" cy="568.2" r="2.4"/><circle cx="1160.0" cy="569.8" r="2.4"/><circle cx="1169.5" cy="577.7" r="2.4"/><circle cx="1158.5" cy="567.7" r="2.4"/><circle cx="1130.9" cy="546.6" r="2.4"/><circle cx="1165.9" cy="571.8" r="2.4"/><circle cx="1143.1" cy="558.9" r="2.4"/><circle cx="1149.4" cy="569.9" r="2.4"/><circle cx="1164.9" cy="578.0" r="2.4"/><circle cx="1145.3" cy="568.0" r="2.4"/><circle cx="1168.1" cy="574.4" r="2.4"/><circle cx="1136.6" cy="557.2" r="2.4"/><circle cx="1155.6" cy="570.8" r="2.4"/><circle cx="1143.8" cy="564.1" r="2.4"/><circle cx="1170.5" cy="576.2" r="2.4"/><circle cx="1158.5" cy="569.6" r="2.4"/><circle cx="1166.6" cy="576.4" r="2.4"/><circle cx="1164.3" cy="573.0" r="2.4"/><circle cx="1124.8" cy="543.1" r="2.4"/><circle cx="1122.1" cy="537.7" r="2.4"/><circle cx="1142.6" cy="557.7" r="2.4"/><circle cx="1127.4" cy="549.3" r="2.4"/><circle cx="1120.2" cy="537.6" r="2.4"/><circle cx="1127.1" cy="538.5" r="2.4"/><circle cx="1142.6" cy="565.5" r="2.4"/><circle cx="1172.0" cy="577.6" r="2.4"/><circle cx="1127.8" cy="535.8" r="2.4"/><circle cx="1138.5" cy="560.2" r="2.4"/><circle cx="1120.2" cy="533.2" r="2.4"/><circle cx="1130.5" cy="547.3" r="2.4"/></g><path d="M1110.8,528.3V611.0H1235.6M1110.8,611.0v-1.6M1152.4,611.0v-1.6M1194.0,611.0v-1.6M1235.6,611.0v-1.6M1110.8,611.0h1.6M1110.8,583.4h1.6M1110.8,555.9h1.6M1110.8,528.3h1.6" stroke="#262626" stroke-width="1.1" fill="none"/><g font-family="'Liberation Sans', sans-serif" font-size="9.3" fill="#262626"><text x="1110.8" y="622.3" text-anchor="middle">0.5</text><text x="1152.4" y="622.3" text-anchor="middle">0.6</text><text x="1194.0" y="622.3" text-anchor="middle">0.7</text><text x="1235.6" y="622.3" text-anchor="middle">0.8</text><text x="1108.2" y="614.4" text-anchor="end">0</text><text x="1108.2" y="586.8" text-anchor="end">5</text><text x="1108.2" y="559.3" text-anchor="end">10</text><text x="1108.2" y="531.7" text-anchor="end">15</text><text x="1163.2" y="636.6" font-size="10.6" textLength="20" lengthAdjust="spacingAndGlyphs"><tspan font-style="italic" fill="#555">ϕ</tspan> [-]</text><text transform="translate(1088.8,589.9) rotate(-90)" font-size="10.6" textLength="40.5" lengthAdjust="spacingAndGlyphs">d<tspan font-size="7.5" dy="2.5">32</tspan><tspan dy="-2.5"> [</tspan><tspan font-style="italic">μ</tspan>m]</text></g></g>
</svg></body></html>
